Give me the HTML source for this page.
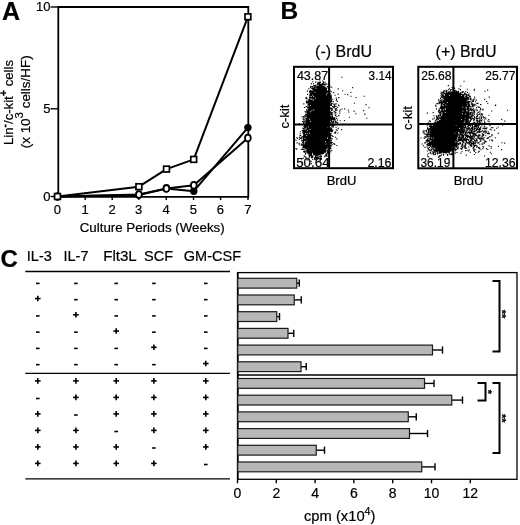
<!DOCTYPE html>
<html><head><meta charset="utf-8"><title>Figure</title>
<style>
html,body{margin:0;padding:0;background:#fff;}
body{width:520px;height:525px;overflow:hidden;font-family:"Liberation Sans",sans-serif;}
svg{display:block;will-change:transform;font-family:"Liberation Sans",sans-serif;}
svg text{fill:#000;stroke:#000;stroke-width:0.2px;}
</style></head><body>
<svg width="520" height="525" viewBox="0 0 520 525" shape-rendering="geometricPrecision">
<rect width="520" height="525" fill="#fff"/>
<path d="M58.3 196.9 L58.3 7 L248.3 7 L248.3 196.9 Z" fill="none" stroke="#000" stroke-width="1.8"/>
<line x1="50.5" y1="7" x2="58.3" y2="7" stroke="#000" stroke-width="1.4" />
<text x="50.5" y="10.8" font-size="13" text-anchor="end" font-weight="normal" >10</text>
<line x1="50.5" y1="108.8" x2="58.3" y2="108.8" stroke="#000" stroke-width="1.4" />
<text x="50.5" y="112.5" font-size="13" text-anchor="end" font-weight="normal" >5</text>
<line x1="50.5" y1="196.5" x2="58.3" y2="196.5" stroke="#000" stroke-width="1.4" />
<text x="50.5" y="200.7" font-size="13" text-anchor="end" font-weight="normal" >0</text>
<line x1="57.5" y1="196.9" x2="57.5" y2="200.1" stroke="#000" stroke-width="1.4" />
<text x="57.3" y="213.5" font-size="13" text-anchor="middle" font-weight="normal" >0</text>
<line x1="85.2" y1="196.9" x2="85.2" y2="200.1" stroke="#000" stroke-width="1.4" />
<text x="85.0" y="213.5" font-size="13" text-anchor="middle" font-weight="normal" >1</text>
<line x1="112.2" y1="196.9" x2="112.2" y2="200.1" stroke="#000" stroke-width="1.4" />
<text x="112.0" y="213.5" font-size="13" text-anchor="middle" font-weight="normal" >2</text>
<line x1="138.8" y1="196.9" x2="138.8" y2="200.1" stroke="#000" stroke-width="1.4" />
<text x="138.60000000000002" y="213.5" font-size="13" text-anchor="middle" font-weight="normal" >3</text>
<line x1="166.3" y1="196.9" x2="166.3" y2="200.1" stroke="#000" stroke-width="1.4" />
<text x="166.10000000000002" y="213.5" font-size="13" text-anchor="middle" font-weight="normal" >4</text>
<line x1="193.5" y1="196.9" x2="193.5" y2="200.1" stroke="#000" stroke-width="1.4" />
<text x="193.3" y="213.5" font-size="13" text-anchor="middle" font-weight="normal" >5</text>
<line x1="220.6" y1="196.9" x2="220.6" y2="200.1" stroke="#000" stroke-width="1.4" />
<text x="220.4" y="213.5" font-size="13" text-anchor="middle" font-weight="normal" >6</text>
<line x1="248" y1="196.9" x2="248" y2="200.1" stroke="#000" stroke-width="1.4" />
<text x="247.8" y="213.5" font-size="13" text-anchor="middle" font-weight="normal" >7</text>
<text x="152.2" y="232.1" font-size="13" text-anchor="middle" font-weight="normal" textLength="145" lengthAdjust="spacingAndGlyphs">Culture Periods (Weeks)</text>
<text transform="translate(13,102.5) rotate(-90)" font-size="13" text-anchor="middle" textLength="85" lengthAdjust="spacingAndGlyphs">Lin<tspan dy="-5" font-size="10" font-weight="bold">-</tspan><tspan dy="5">/c-kit</tspan><tspan dy="-5.6" font-size="10.5" font-weight="bold">+</tspan><tspan dy="5.6"> cells</tspan></text>
<text transform="translate(29.8,101.8) rotate(-90)" font-size="13" text-anchor="middle" textLength="93" lengthAdjust="spacingAndGlyphs">(x 10<tspan dy="-6.6" font-size="11">3</tspan><tspan dy="6.6"> cells/HF)</tspan></text>
<text x="2" y="19.6" font-size="25" text-anchor="start" font-weight="bold" >A</text>
<polyline fill="none" stroke="#000" stroke-width="2.0" stroke-linejoin="round" points="57.5,196.5 138.9,186.7 166.5,169.1 193.7,159.4 247.9,16.8"/>
<polyline fill="none" stroke="#000" stroke-width="2.0" stroke-linejoin="round" points="57.5,196.5 138.8,195 166.4,188.6 193.8,191.2 247.9,127.6"/>
<polyline fill="none" stroke="#000" stroke-width="2.0" stroke-linejoin="round" points="57.5,196.5 138.9,194.6 166.4,188.4 193.8,185.3 247.9,138.1"/>
<circle cx="57.5" cy="196.5" r="3.7" fill="#000"/>
<circle cx="138.8" cy="195" r="3.7" fill="#000"/>
<circle cx="166.4" cy="188.6" r="3.7" fill="#000"/>
<circle cx="193.8" cy="191.2" r="3.7" fill="#000"/>
<circle cx="247.9" cy="127.6" r="3.7" fill="#000"/>
<ellipse cx="57.5" cy="196.5" rx="2.9" ry="3.4" fill="#fff" stroke="#000" stroke-width="1.8"/>
<ellipse cx="138.9" cy="194.6" rx="2.9" ry="3.4" fill="#fff" stroke="#000" stroke-width="1.8"/>
<ellipse cx="166.4" cy="188.4" rx="2.9" ry="3.4" fill="#fff" stroke="#000" stroke-width="1.8"/>
<ellipse cx="193.8" cy="185.3" rx="2.9" ry="3.4" fill="#fff" stroke="#000" stroke-width="1.8"/>
<ellipse cx="247.9" cy="138.1" rx="2.9" ry="3.4" fill="#fff" stroke="#000" stroke-width="1.8"/>
<rect x="54.6" y="193.6" width="5.8" height="5.8" fill="#fff" stroke="#000" stroke-width="1.7"/>
<rect x="136.0" y="183.79999999999998" width="5.8" height="5.8" fill="#fff" stroke="#000" stroke-width="1.7"/>
<rect x="163.6" y="166.2" width="5.8" height="5.8" fill="#fff" stroke="#000" stroke-width="1.7"/>
<rect x="190.79999999999998" y="156.5" width="5.8" height="5.8" fill="#fff" stroke="#000" stroke-width="1.7"/>
<rect x="245.0" y="13.9" width="5.8" height="5.8" fill="#fff" stroke="#000" stroke-width="1.7"/>
<text x="280.5" y="18.8" font-size="24.5" text-anchor="start" font-weight="bold" >B</text>
<text x="343.5" y="56.7" font-size="16" text-anchor="middle" font-weight="normal" >(-) BrdU</text>
<path stroke="#000" stroke-width="1.1" fill="none" d="M306.9 110.3h1.1M307.0 112.1h1.1M314.2 89.4h1.1M303.2 145.0h1.1M330.8 125.3h1.1M327.2 91.6h1.1M310.4 95.8h1.1M330.5 125.3h1.1M305.9 124.8h1.1M306.0 118.4h1.1M304.4 116.8h1.1M301.9 124.5h1.1M297.0 138.5h1.1M302.7 140.3h1.1M327.9 84.1h1.1M331.0 105.5h1.1M302.3 128.4h1.1M302.5 131.5h1.1M331.7 130.6h1.1M303.5 134.5h1.1M310.6 97.1h1.1M305.9 101.6h1.1M311.0 93.5h1.1M303.0 144.0h1.1M333.5 111.3h1.1M308.6 102.5h1.1M305.5 125.3h1.1M331.3 126.3h1.1M304.4 125.7h1.1M330.9 142.0h1.1M307.8 112.5h1.1M312.6 89.3h1.1M308.6 109.7h1.1M304.6 111.6h1.1M304.7 127.6h1.1M334.5 95.3h1.1M306.9 119.6h1.1M330.1 104.9h1.1M326.0 88.2h1.1M308.2 88.9h1.1M328.7 145.7h1.1M301.2 140.9h1.1M305.7 112.4h1.1M330.5 142.0h1.1M309.0 101.6h1.1M307.1 105.0h1.1M302.7 158.1h1.1M307.9 110.6h1.1M308.5 102.1h1.1M331.9 116.9h1.1M331.0 91.7h1.1M304.1 115.8h1.1M333.9 107.1h1.1M325.7 153.6h1.1M307.1 94.4h1.1M330.1 142.8h1.1M308.2 115.2h1.1M299.9 131.7h1.1M332.0 116.3h1.1M307.5 107.3h1.1M309.2 105.0h1.1M302.9 116.6h1.1M330.9 112.6h1.1M315.4 85.8h1.1M323.2 82.1h1.1M304.6 125.2h1.1M330.2 123.1h1.1M330.7 104.2h1.1M332.7 122.4h1.1M304.4 122.0h1.1M306.1 120.1h1.1M328.5 146.3h1.1M332.1 125.5h1.1M306.9 117.3h1.1M329.6 91.1h1.1M329.7 135.3h1.1M328.4 149.8h1.1M332.1 119.1h1.1M309.5 95.8h1.1M330.0 108.8h1.1M305.9 123.1h1.1M298.9 123.9h1.1M329.2 141.1h1.1M303.6 141.0h1.1M332.0 115.0h1.1M303.2 151.6h1.1M310.0 90.7h1.1M327.9 152.2h1.1M328.3 92.4h1.1M303.9 107.5h1.1M308.0 104.1h1.1M310.4 97.5h1.1M306.3 106.6h1.1M310.5 99.9h1.1M307.2 101.6h1.1M330.2 118.4h1.1M302.4 144.3h1.1M334.5 119.4h1.1M331.4 108.1h1.1M308.3 108.2h1.1M328.1 90.5h1.1M329.9 145.6h1.1M308.6 103.9h1.1M301.4 117.0h1.1M308.7 155.9h1.1M307.5 110.0h1.1M306.5 118.6h1.1M308.5 103.8h1.1M313.4 88.3h1.1M331.3 125.3h1.1M330.1 133.3h1.1M330.4 100.8h1.1M329.1 85.9h1.1M302.3 140.5h1.1M331.9 122.1h1.1M329.3 146.2h1.1M309.5 100.8h1.1M301.9 145.2h1.1M330.6 133.2h1.1M302.6 138.4h1.1M302.3 131.9h1.1M330.1 104.7h1.1M330.1 136.0h1.1M330.7 135.2h1.1M304.6 130.7h1.1M309.0 110.0h1.1M311.1 88.3h1.1M308.0 102.9h1.1M303.0 119.9h1.1M305.0 156.9h1.1M329.6 143.2h1.1M305.1 153.7h1.1M305.6 97.6h1.1M331.4 124.0h1.1M330.6 101.6h1.1M306.1 120.0h1.1M310.4 95.1h1.1M329.5 138.4h1.1M329.1 150.5h1.1M331.1 114.8h1.1M307.8 111.6h1.1M298.7 144.7h1.1M308.3 103.5h1.1M326.5 154.9h1.1M332.9 126.9h1.1M327.7 87.6h1.1M329.7 142.9h1.1M310.6 95.4h1.1M334.1 106.0h1.1M308.1 109.3h1.1M310.3 98.9h1.1M336.0 99.4h1.1M306.9 118.6h1.1M311.5 92.5h1.1M331.6 123.8h1.1M305.6 123.4h1.1M306.9 91.1h1.1M330.1 131.5h1.1M308.4 99.6h1.1M328.6 147.1h1.1M328.3 84.7h1.1M313.3 85.5h1.1M332.9 143.8h1.1M308.8 97.0h1.1M327.1 152.2h1.1M303.2 122.1h1.1M331.0 101.2h1.1M331.2 103.9h1.1M310.2 91.3h1.1M309.8 99.9h1.1M303.3 103.9h1.1M306.4 115.6h1.1M324.7 155.7h1.1M304.0 133.3h1.1M330.0 134.3h1.1M330.3 115.3h1.1M329.8 143.2h1.1M330.3 112.3h1.1M330.2 103.0h1.1M309.4 97.6h1.1M329.9 131.3h1.1M309.2 155.2h1.1M309.0 91.7h1.1M319.9 153.9h1.1M331.1 101.1h1.1M307.4 112.5h1.1M310.1 94.1h1.1M329.3 97.8h1.1M331.9 109.8h1.1M302.4 119.0h1.1M306.2 100.8h1.1M329.0 143.2h1.1M310.0 87.3h1.1M304.0 152.3h1.1M307.3 152.8h1.1M306.8 102.9h1.1M330.2 151.7h1.1M333.5 119.1h1.1M307.1 107.9h1.1M331.0 98.2h1.1M330.0 142.8h1.1M330.1 112.3h1.1M330.0 99.5h1.1M298.9 124.6h1.1M328.5 148.7h1.1M330.8 120.9h1.1M308.0 100.2h1.1M328.8 142.4h1.1M302.2 142.6h1.1M309.7 101.5h1.1M330.2 95.0h1.1M311.1 157.4h1.1M334.2 144.4h1.1M331.7 144.7h1.1M313.9 89.9h1.1M330.5 131.5h1.1M303.5 147.5h1.1M309.9 87.8h1.1M309.6 100.9h1.1M330.2 129.1h1.1M314.6 86.5h1.1M330.6 101.1h1.1M312.1 86.8h1.1M309.9 90.6h1.1M307.1 115.8h1.1M304.8 124.8h1.1M328.9 147.6h1.1M305.9 102.6h1.1M330.7 116.8h1.1M309.3 95.1h1.1M329.9 129.2h1.1M306.0 119.6h1.1M330.2 118.5h1.1M308.4 154.1h1.1M326.5 156.5h1.1M331.2 114.1h1.1M300.8 144.1h1.1M328.9 147.3h1.1M308.6 99.8h1.1M332.4 103.3h1.1M311.5 91.6h1.1M310.1 94.3h1.1M304.1 127.8h1.1M303.7 130.9h1.1M314.1 87.0h1.1M303.5 143.9h1.1M306.7 117.9h1.1M307.3 116.8h1.1M302.6 130.7h1.1M312.5 86.5h1.1M303.7 155.9h1.1M296.5 142.9h1.1M332.8 121.8h1.1M305.1 154.3h1.1M299.9 138.3h1.1M306.5 98.9h1.1M308.8 99.6h1.1M305.5 98.5h1.1M329.9 133.6h1.1M330.6 121.8h1.1M302.5 147.8h1.1M320.7 155.1h1.1M295.4 140.1h1.1M303.6 138.6h1.1M300.9 137.9h1.1M308.5 157.9h1.1M308.8 108.9h1.1M303.4 118.0h1.1M309.4 94.5h1.1M307.6 110.3h1.1M308.3 101.8h1.1M302.0 121.5h1.1M309.5 99.7h1.1M303.3 137.6h1.1M324.8 84.1h1.1M331.6 118.9h1.1M329.9 100.7h1.1M307.0 101.5h1.1M311.4 86.7h1.1M303.5 129.3h1.1M303.0 142.7h1.1M329.4 148.9h1.1M324.8 82.2h1.1M307.0 117.9h1.1M309.0 101.5h1.1M329.0 142.1h1.1M303.1 122.9h1.1M330.1 130.5h1.1M303.6 147.9h1.1M326.1 155.6h1.1M303.7 150.0h1.1M333.9 132.8h1.1M331.4 119.8h1.1M303.4 134.9h1.1M329.9 101.0h1.1M310.3 86.3h1.1M308.5 112.5h1.1M331.3 130.9h1.1M312.1 91.2h1.1M300.7 145.1h1.1M327.2 150.4h1.1M327.8 88.4h1.1M330.9 129.9h1.1M329.0 92.9h1.1M308.8 107.7h1.1M303.4 137.6h1.1M305.0 153.3h1.1M305.1 114.1h1.1M330.9 110.5h1.1M328.7 95.4h1.1M315.3 85.3h1.1M303.9 119.9h1.1M309.7 98.9h1.1M306.1 150.9h1.1M304.0 134.3h1.1M330.8 140.5h1.1M304.1 126.4h1.1M328.4 93.7h1.1M305.9 97.7h1.1M303.1 147.9h1.1M331.6 121.7h1.1M305.4 106.8h1.1M329.9 128.9h1.1M304.5 127.5h1.1M303.8 147.0h1.1M303.5 148.0h1.1M308.3 103.6h1.1M331.0 100.0h1.1M328.9 88.0h1.1M329.7 145.4h1.1M329.8 99.5h1.1M311.8 89.3h1.1M302.5 133.3h1.1M302.9 128.2h1.1M303.4 149.6h1.1M332.2 99.2h1.1M331.3 138.9h1.1M305.4 114.7h1.1M309.1 91.3h1.1M308.5 100.1h1.1M303.1 130.4h1.1M330.3 131.1h1.1M330.1 118.7h1.1M330.0 140.3h1.1M310.4 91.7h1.1M330.6 128.2h1.1M330.4 113.4h1.1M296.4 137.5h1.1M307.8 110.0h1.1M305.5 115.0h1.1M308.0 109.8h1.1M303.4 117.8h1.1M307.8 113.5h1.1M303.5 126.6h1.1M330.3 98.7h1.1M303.0 140.3h1.1M302.8 121.7h1.1M308.9 107.1h1.1M307.6 115.1h1.1M308.4 100.8h1.1M331.3 112.5h1.1M300.7 149.3h1.1M327.6 150.9h1.1M310.8 83.6h1.1M304.5 132.6h1.1M303.6 141.4h1.1M327.7 151.5h1.1M331.6 138.9h1.1M329.4 140.2h1.1M300.2 135.5h1.1M305.4 126.0h1.1M312.9 91.0h1.1M305.3 120.1h1.1M302.2 144.7h1.1M330.2 127.9h1.1M329.1 92.9h1.1M312.9 88.7h1.1M309.0 154.2h1.1M302.3 147.6h1.1M302.8 145.1h1.1M330.3 120.5h1.1M330.3 125.3h1.1M303.1 143.6h1.1M324.2 156.8h1.1M308.4 106.1h1.1M302.9 139.4h1.1M328.1 148.0h1.1M330.3 98.7h1.1M331.4 129.7h1.1M330.5 127.8h1.1M303.7 130.2h1.1M311.7 93.1h1.1M329.9 137.6h1.1M329.3 143.7h1.1M308.7 103.9h1.1M305.4 152.7h1.1M313.0 83.8h1.1M307.0 114.7h1.1M332.7 125.1h1.1M329.0 92.6h1.1M310.9 95.4h1.1M307.2 152.9h1.1M310.4 94.3h1.1M309.3 101.6h1.1M330.5 138.2h1.1M302.3 136.9h1.1M330.8 103.4h1.1M329.8 131.4h1.1M330.1 108.6h1.1M312.5 87.5h1.1M330.2 116.8h1.1M330.2 129.1h1.1M332.1 113.0h1.1M306.6 103.3h1.1M329.9 130.7h1.1M329.1 140.8h1.1M330.4 114.4h1.1M328.1 146.3h1.1M317.4 82.0h1.1M303.0 146.3h1.1M329.6 142.2h1.1M330.7 146.3h1.1M307.9 110.1h1.1M329.5 137.1h1.1M330.3 128.6h1.1M329.8 140.0h1.1M329.4 91.5h1.1M328.3 151.5h1.1M330.2 119.4h1.1M303.6 136.1h1.1M330.2 120.2h1.1M307.5 113.5h1.1M303.2 139.7h1.1M312.3 88.5h1.1M303.4 146.4h1.1M331.1 118.8h1.1M329.2 144.6h1.1M310.4 98.2h1.1M330.5 128.8h1.1M327.9 88.1h1.1M329.2 90.9h1.1M325.0 152.0h1.1M304.9 118.3h1.1M313.9 87.7h1.1M328.8 152.6h1.1M332.5 136.5h1.1M312.3 91.8h1.1M330.9 105.2h1.1M311.5 94.1h1.1M310.6 98.6h1.1M303.6 133.4h1.1M303.9 151.6h1.1M328.5 145.9h1.1M327.2 151.4h1.1M306.0 114.4h1.1M311.0 95.6h1.1M329.6 136.9h1.1M307.5 113.2h1.1M303.6 143.0h1.1M302.1 149.4h1.1M328.1 89.6h1.1M309.0 107.6h1.1M334.4 111.7h1.1M330.0 105.2h1.1M301.4 140.3h1.1M308.6 109.6h1.1M329.0 140.2h1.1M329.9 102.3h1.1M330.4 98.1h1.1M328.9 92.0h1.1M308.6 103.5h1.1M305.5 123.0h1.1M303.2 140.6h1.1M331.4 110.1h1.1M305.0 116.1h1.1M308.1 104.6h1.1M308.0 111.0h1.1M305.9 121.9h1.1M330.2 94.8h1.1M303.2 134.3h1.1M329.6 87.0h1.1M330.1 122.9h1.1M308.6 155.1h1.1M303.6 144.1h1.1M304.2 132.6h1.1M330.2 120.7h1.1M328.4 148.6h1.1M306.5 122.3h1.1M307.2 114.6h1.1M330.1 124.9h1.1M329.3 140.5h1.1M304.3 124.3h1.1M303.7 139.2h1.1M323.9 156.7h1.1M329.0 138.0h1.1M305.6 151.0h1.1M304.5 132.0h1.1M306.5 121.8h1.1M325.5 151.6h1.1M328.1 145.3h1.1M304.1 130.3h1.1M326.9 153.3h1.1M304.2 121.6h1.1M304.2 132.8h1.1M324.9 150.7h1.1M310.9 96.1h1.1M308.9 105.9h1.1M330.8 124.8h1.1M330.2 125.0h1.1M330.5 121.9h1.1M308.7 105.1h1.1M305.3 126.5h1.1M303.4 144.7h1.1M309.9 155.4h1.1M309.4 95.6h1.1M307.1 112.9h1.1M309.4 92.7h1.1M307.8 107.8h1.1M331.1 125.6h1.1M329.8 137.6h1.1M330.9 143.7h1.1M323.6 88.2h1.1M330.7 117.4h1.1M328.6 148.9h1.1M306.3 116.7h1.1M305.6 126.5h1.1M329.6 139.8h1.1M308.4 107.1h1.1M303.8 124.7h1.1M328.9 148.1h1.1M330.1 117.8h1.1M331.1 121.2h1.1M330.6 120.3h1.1M307.4 112.4h1.1M330.8 109.1h1.1M307.6 111.5h1.1M332.4 123.7h1.1M330.1 129.7h1.1M330.2 120.4h1.1M329.0 148.9h1.1M329.1 152.9h1.1M307.4 114.7h1.1M330.2 122.6h1.1M301.8 130.5h1.1M304.6 130.7h1.1M304.1 132.5h1.1M329.5 145.7h1.1M305.2 126.6h1.1M330.7 122.0h1.1M329.4 96.7h1.1M311.3 93.3h1.1M303.7 140.0h1.1M303.0 139.1h1.1M307.7 105.0h1.1M305.2 126.0h1.1M330.3 148.8h1.1M330.3 120.7h1.1M302.3 147.1h1.1M303.0 145.4h1.1M306.7 152.0h1.1M303.9 137.8h1.1M303.6 139.8h1.1M305.9 109.9h1.1M329.3 95.7h1.1M307.8 114.6h1.1M309.4 100.8h1.1M308.9 101.3h1.1M304.0 136.2h1.1M303.3 146.3h1.1M309.9 93.2h1.1M330.2 114.1h1.1M309.7 100.5h1.1M302.6 133.7h1.1M330.0 101.5h1.1M303.6 145.6h1.1M303.1 139.5h1.1M305.4 126.5h1.1M303.1 146.2h1.1M329.2 91.1h1.1M312.7 89.7h1.1M329.3 90.4h1.1M330.6 142.7h1.1M311.2 93.1h1.1M307.7 107.4h1.1M302.9 133.1h1.1M308.8 100.2h1.1M329.5 138.4h1.1M309.9 99.4h1.1M313.5 89.4h1.1M330.2 129.1h1.1M330.4 119.8h1.1M303.8 140.3h1.1M328.6 145.8h1.1M302.1 142.3h1.1M303.1 135.8h1.1M303.5 146.1h1.1M304.9 151.2h1.1M329.3 141.0h1.1M327.6 84.3h1.1M329.1 93.7h1.1M329.8 130.0h1.1M330.0 128.9h1.1M312.8 89.7h1.1M329.9 96.4h1.1M309.2 97.5h1.1M306.9 111.6h1.1M329.5 96.1h1.1M303.2 136.8h1.1M304.4 128.1h1.1M309.0 104.7h1.1M313.0 88.6h1.1M311.1 91.0h1.1M308.3 117.1h1.1M303.1 138.9h1.1M322.4 152.7h1.1M329.6 98.7h1.1M327.6 153.1h1.1M309.4 101.7h1.1M326.8 86.6h1.1M331.6 131.7h1.1M330.7 96.9h1.1M329.8 96.4h1.1M330.4 112.0h1.1M327.1 86.6h1.1M330.6 145.6h1.1M306.4 119.8h1.1M304.8 127.5h1.1M308.9 155.9h1.1M306.5 120.1h1.1M328.9 146.0h1.1M330.4 103.6h1.1M331.3 117.1h1.1M304.5 147.0h1.1M308.4 110.7h1.1M306.3 111.4h1.1M323.8 152.2h1.1M302.9 141.5h1.1M330.5 124.6h1.1M304.5 131.4h1.1M330.0 98.1h1.1M328.6 89.3h1.1M330.5 121.7h1.1M310.0 92.2h1.1M303.9 146.1h1.1M305.7 121.4h1.1M305.2 125.3h1.1M305.2 128.8h1.1M329.3 147.4h1.1M300.7 138.7h1.1M303.5 143.2h1.1M325.4 155.6h1.1M312.9 91.7h1.1M324.5 85.1h1.1M330.8 118.3h1.1M330.0 147.9h1.1M303.0 137.2h1.1M329.8 131.2h1.1M325.4 154.8h1.1M304.8 128.3h1.1M326.8 150.0h1.1M309.0 97.9h1.1M314.4 86.0h1.1M329.8 97.4h1.1M329.7 93.5h1.1M331.7 135.9h1.1M330.7 95.9h1.1M303.6 143.2h1.1M307.9 110.2h1.1M302.3 144.6h1.1M307.1 107.9h1.1M305.4 125.5h1.1M305.4 127.8h1.1M323.5 87.6h1.1M310.7 155.5h1.1M304.3 131.2h1.1M332.2 125.5h1.1M310.9 156.2h1.1M329.9 136.1h1.1M307.2 114.1h1.1M303.4 130.1h1.1M319.8 82.1h1.1M318.2 82.9h1.1M317.1 83.5h1.1M322.5 84.5h1.1M316.0 88.3h1.1M317.1 84.2h1.1M320.1 85.2h1.1M319.1 84.7h1.1M326.1 84.1h1.1M316.9 84.5h1.1M317.7 83.4h1.1M320.5 84.5h1.1M319.2 85.3h1.1M319.4 82.0h1.1M322.5 83.4h1.1M323.5 83.0h1.1M321.6 84.5h1.1M312.2 81.7h1.1M316.8 86.2h1.1M314.6 85.4h1.1M323.1 84.8h1.1M321.9 83.2h1.1M320.0 84.3h1.1M321.2 85.1h1.1M319.4 82.9h1.1M318.4 84.6h1.1M315.2 82.1h1.1M318.8 83.2h1.1M319.2 79.9h1.1M319.0 83.6h1.1M322.2 81.0h1.1M319.1 84.7h1.1M321.4 85.8h1.1M323.0 82.4h1.1M321.8 83.5h1.1M317.7 86.4h1.1M318.2 82.7h1.1M318.8 82.7h1.1M322.9 84.6h1.1M324.0 84.6h1.1M312.3 159.5h1.1M312.2 156.6h1.1M314.3 157.6h1.1M320.2 156.3h1.1M316.5 157.4h1.1M309.6 155.4h1.1M314.0 158.3h1.1M316.4 158.4h1.1M315.2 156.6h1.1M316.8 155.6h1.1M309.2 156.9h1.1M308.8 156.5h1.1M311.8 156.4h1.1M314.8 156.0h1.1M313.2 154.2h1.1M315.6 155.8h1.1M316.8 152.0h1.1M311.5 158.0h1.1M304.4 156.8h1.1M315.4 157.7h1.1M308.5 157.9h1.1M315.6 155.6h1.1M318.2 157.4h1.1M315.1 156.6h1.1M317.4 157.7h1.1M319.9 158.4h1.1M312.3 157.1h1.1M319.0 156.8h1.1M316.7 158.5h1.1M314.2 153.0h1.1M315.6 157.9h1.1M315.6 156.0h1.1M320.3 157.2h1.1M312.3 156.1h1.1M316.6 155.4h1.1M310.6 161.4h1.1M320.7 159.5h1.1M320.9 158.7h1.1M307.7 159.8h1.1M320.4 158.4h1.1M306.5 159.9h1.1M320.9 156.5h1.1M315.6 159.0h1.1M314.6 159.6h1.1M315.4 158.8h1.1M315.4 154.6h1.1M310.7 163.6h1.1M316.2 160.0h1.1M320.0 160.8h1.1M317.4 156.3h1.1M315.1 153.8h1.1M314.2 159.3h1.1M305.6 157.9h1.1M318.6 160.1h1.1M311.0 156.2h1.1M336.2 138.9h1.1M335.8 108.4h1.1M341.3 77.3h1.1M334.3 118.9h1.1M341.1 129.6h1.1M341.5 109.0h1.1M337.5 128.7h1.1M336.1 118.4h1.1M333.9 111.8h1.1M333.1 92.6h1.1M335.3 114.6h1.1M335.0 137.2h1.1M334.2 113.2h1.1M332.2 118.6h1.1M333.1 120.1h1.1M344.2 108.9h1.1M331.8 142.5h1.1M337.2 122.6h1.1M336.7 123.2h1.1M336.6 130.5h1.1M337.6 128.4h1.1M332.9 117.9h1.1M332.2 130.3h1.1M337.1 107.2h1.1M336.3 145.5h1.1M338.4 97.8h1.1M334.2 124.0h1.1M334.4 120.8h1.1M338.2 115.5h1.1M331.1 128.8h1.1M334.2 117.7h1.1M332.7 101.5h1.1M331.2 87.3h1.1M338.1 97.6h1.1M332.2 125.2h1.1M332.1 126.9h1.1M333.0 121.5h1.1M334.8 115.6h1.1M334.4 133.2h1.1M332.8 124.5h1.1M335.0 121.2h1.1M337.6 94.1h1.1M335.4 112.8h1.1M333.5 106.9h1.1M332.0 106.5h1.1M331.1 150.5h1.1M339.8 109.7h1.1M336.8 101.4h1.1M334.9 132.9h1.1M334.4 104.1h1.1M333.7 104.9h1.1M333.3 107.7h1.1M331.7 108.1h1.1M335.2 131.9h1.1M333.8 143.8h1.1M334.8 122.4h1.1M338.0 105.0h1.1M335.4 106.4h1.1M337.3 133.0h1.1M337.7 88.9h1.1M335.1 112.5h1.1M335.2 109.4h1.1M335.9 122.1h1.1M336.9 120.1h1.1M335.8 100.2h1.1M333.2 119.2h1.1M333.3 104.7h1.1M334.6 108.8h1.1M333.2 106.8h1.1M332.2 117.7h1.1M332.5 126.7h1.1M334.1 118.1h1.1M335.8 129.8h1.1M336.4 116.5h1.1M334.0 106.9h1.1M333.4 125.5h1.1M335.2 110.5h1.1M335.5 127.2h1.1M335.7 98.0h1.1M333.8 119.5h1.1M331.6 123.7h1.1M333.9 106.7h1.1M335.6 103.9h1.1M331.3 130.6h1.1M336.4 110.1h1.1M365.5 104.6h1.1M339.7 120.8h1.1M348.2 112.0h1.1M350.4 96.3h1.1M338.4 105.7h1.1M363.7 96.3h1.1M363.2 110.6h1.1M339.2 111.1h1.1M355.5 97.5h1.1M339.2 113.1h1.1M342.1 90.7h1.1M347.7 110.0h1.1M344.6 94.2h1.1M352.1 87.6h1.1M355.2 113.7h1.1M366.3 118.3h1.1M353.5 111.1h1.1M350.3 92.5h1.1M364.2 114.1h1.1M347.2 94.6h1.1M364.4 114.2h1.1M338.5 115.8h1.1M368.4 107.7h1.1M353.9 103.2h1.1M343.9 120.5h1.1M348.8 117.2h1.1M301.1 149.2h1.1M304.4 127.2h1.1M298.9 139.1h1.1M304.4 143.5h1.1M305.6 122.6h1.1M303.4 132.1h1.1M302.3 144.1h1.1M299.2 137.1h1.1M298.6 143.4h1.1M299.5 133.8h1.1M302.6 131.8h1.1M305.3 132.0h1.1M304.5 143.6h1.1M299.0 137.2h1.1M299.6 135.4h1.1M301.2 162.9h1.1M300.8 159.8h1.1M303.3 123.5h1.1M295.3 148.5h1.1M296.2 149.1h1.1M305.0 144.9h1.1M301.4 136.8h1.1"/>
<path fill="#000" d="M318.7 85.0 L316.8 85.8 L316.2 86.6 L315.1 87.4 L314.1 88.2 L312.9 89.0 L313.5 89.8 L313.2 90.6 L311.4 91.4 L312.3 92.2 L311.4 93.0 L311.0 93.8 L311.5 94.6 L310.2 95.4 L310.0 96.2 L310.3 97.0 L310.6 97.8 L310.4 98.6 L310.9 99.4 L310.6 100.2 L310.4 101.0 L309.5 101.8 L309.4 102.6 L309.0 103.4 L308.6 104.2 L309.6 105.0 L309.4 105.8 L309.6 106.6 L309.6 107.4 L309.5 108.2 L308.2 109.0 L308.9 109.8 L309.1 110.6 L308.2 111.4 L308.3 112.2 L307.3 113.0 L307.4 113.8 L308.3 114.6 L308.3 115.4 L307.6 116.2 L307.0 117.0 L307.4 117.8 L306.7 118.6 L306.4 119.4 L306.1 120.2 L306.2 121.0 L306.5 121.8 L306.3 122.6 L306.3 123.4 L305.1 124.2 L305.1 125.0 L305.0 125.8 L305.3 126.6 L305.7 127.4 L304.7 128.2 L304.9 129.0 L305.7 129.8 L304.3 130.6 L305.5 131.4 L304.7 132.2 L303.8 133.0 L303.8 133.8 L304.3 134.6 L303.6 135.4 L303.6 136.2 L303.6 137.0 L304.0 137.8 L303.1 138.6 L303.9 139.4 L304.0 140.2 L303.3 141.0 L303.1 141.8 L302.8 142.6 L303.7 143.4 L304.3 144.2 L303.9 145.0 L304.1 145.8 L304.4 146.6 L303.7 147.4 L305.1 148.2 L304.8 149.0 L305.6 149.8 L306.1 150.6 L306.7 151.4 L307.3 152.2 L307.4 153.0 L308.1 153.8 L310.0 154.6 L310.8 155.4 L320.2 155.4 L322.1 154.6 L324.3 153.8 L324.1 153.0 L325.6 152.2 L325.5 151.4 L326.7 150.6 L327.0 149.8 L328.1 149.0 L327.2 148.2 L328.4 147.4 L327.6 146.6 L329.1 145.8 L328.2 145.0 L328.1 144.2 L328.6 143.4 L328.8 142.6 L328.6 141.8 L329.6 141.0 L329.5 140.2 L329.8 139.4 L330.1 138.6 L330.1 137.8 L330.1 137.0 L328.8 136.2 L329.4 135.4 L329.4 134.6 L329.7 133.8 L329.6 133.0 L329.8 132.2 L329.1 131.4 L329.1 130.6 L329.8 129.8 L330.5 129.0 L330.7 128.2 L329.3 127.4 L329.8 126.6 L330.2 125.8 L330.3 125.0 L330.1 124.2 L330.0 123.4 L330.6 122.6 L329.4 121.8 L329.3 121.0 L330.6 120.2 L330.5 119.4 L330.0 118.6 L329.3 117.8 L330.9 117.0 L330.9 116.2 L329.3 115.4 L329.6 114.6 L330.8 113.8 L329.5 113.0 L330.2 112.2 L330.7 111.4 L329.3 110.6 L330.0 109.8 L329.7 109.0 L330.0 108.2 L330.9 107.4 L329.3 106.6 L329.2 105.8 L329.8 105.0 L329.8 104.2 L330.0 103.4 L330.1 102.6 L329.0 101.8 L330.7 101.0 L329.2 100.2 L329.4 99.4 L329.0 98.6 L329.2 97.8 L328.9 97.0 L329.9 96.2 L329.6 95.4 L328.5 94.6 L329.8 93.8 L329.2 93.0 L329.6 92.2 L327.8 91.4 L327.6 90.6 L327.0 89.8 L326.7 89.0 L327.0 88.2 L325.9 87.4 L325.2 86.6 L323.3 85.8 L321.7 85.0 Z"/>
<path stroke="#fff" stroke-width="0.9" fill="none" d="M310.8 99.1h0.9M320.8 154.5h0.9M309.0 119.2h0.9M325.9 149.7h0.9M312.8 99.2h0.9M305.6 141.0h0.9M313.2 109.9h0.9M329.5 132.9h0.9M325.6 144.0h0.9M327.1 138.0h0.9M307.9 127.0h0.9M328.6 140.9h0.9M312.2 153.4h0.9M326.8 93.2h0.9M329.5 102.9h0.9M310.6 99.1h0.9M328.5 120.1h0.9M306.3 135.6h0.9M325.1 141.5h0.9M303.7 143.8h0.9M329.2 131.5h0.9M327.7 127.4h0.9M317.5 85.3h0.9M328.1 92.9h0.9M305.9 128.1h0.9M312.6 100.2h0.9M305.3 129.1h0.9M329.1 104.3h0.9M329.6 132.1h0.9M306.8 133.6h0.9M314.9 98.1h0.9M311.4 110.8h0.9M329.2 128.4h0.9M329.1 120.6h0.9M313.5 155.4h0.9M310.8 96.5h0.9M328.6 97.5h0.9M304.3 142.6h0.9M314.5 92.2h0.9M310.1 121.6h0.9M327.8 148.6h0.9M309.5 129.4h0.9M328.6 110.8h0.9M309.8 111.8h0.9M305.6 149.6h0.9M312.0 154.5h0.9M305.2 133.7h0.9M327.5 138.5h0.9M304.5 138.4h0.9M326.0 94.8h0.9M312.3 95.3h0.9M315.6 88.3h0.9M306.9 130.7h0.9M309.9 105.7h0.9M312.0 154.6h0.9M309.1 133.2h0.9M329.1 135.5h0.9M313.2 96.5h0.9M304.0 141.5h0.9M329.9 121.7h0.9"/>
<rect x="294" y="66.8" width="99" height="101.39999999999999" fill="none" stroke="#000" stroke-width="2.0"/>
<line x1="329.1" y1="66.8" x2="329.1" y2="168.2" stroke="#000" stroke-width="2.0" />
<line x1="294" y1="124.6" x2="393" y2="124.6" stroke="#000" stroke-width="2.0" />
<text x="296.9" y="79.8" font-size="12.5" text-anchor="start" font-weight="normal" textLength="31.3" lengthAdjust="spacingAndGlyphs">43.87</text>
<text x="391.5" y="79.8" font-size="12.5" text-anchor="end" font-weight="normal" textLength="22.9" lengthAdjust="spacingAndGlyphs">3.14</text>
<text x="296.2" y="166.6" font-size="12.5" text-anchor="start" font-weight="normal" textLength="33.4" lengthAdjust="spacingAndGlyphs">50.64</text>
<text x="391.5" y="166.6" font-size="12.5" text-anchor="end" font-weight="normal" textLength="24.1" lengthAdjust="spacingAndGlyphs">2.16</text>
<text x="341.5" y="185.1" font-size="13" text-anchor="middle" font-weight="normal" >BrdU</text>
<text transform="translate(289.2,116.5) rotate(-90)" font-size="13" text-anchor="middle">c-kit</text>
<text x="466" y="56.7" font-size="16" text-anchor="middle" font-weight="normal" >(+) BrdU</text>
<path stroke="#000" stroke-width="1.1" fill="none" d="M427.7 138.8h1.1M473.2 115.8h1.1M436.2 103.7h1.1M438.1 120.3h1.1M433.3 115.8h1.1M428.1 149.1h1.1M461.0 132.9h1.1M467.1 123.4h1.1M427.5 140.2h1.1M467.4 108.2h1.1M424.8 137.5h1.1M433.5 148.9h1.1M468.0 95.0h1.1M428.2 139.6h1.1M462.2 130.2h1.1M468.8 112.7h1.1M437.9 111.9h1.1M456.4 146.5h1.1M459.8 132.6h1.1M469.7 117.7h1.1M460.6 131.4h1.1M459.5 143.1h1.1M469.6 96.6h1.1M457.8 147.1h1.1M460.2 130.8h1.1M428.9 126.4h1.1M461.7 129.2h1.1M473.5 98.7h1.1M426.4 144.6h1.1M439.3 113.3h1.1M442.3 97.7h1.1M425.4 142.3h1.1M440.8 97.4h1.1M427.2 128.2h1.1M470.7 104.0h1.1M426.9 139.6h1.1M437.1 117.3h1.1M467.7 113.7h1.1M479.0 107.3h1.1M466.7 107.1h1.1M435.9 119.8h1.1M437.8 116.8h1.1M439.3 116.3h1.1M436.2 116.3h1.1M440.3 102.1h1.1M463.4 132.7h1.1M458.5 136.3h1.1M457.2 145.3h1.1M441.2 103.7h1.1M441.0 105.9h1.1M470.0 112.6h1.1M439.9 98.4h1.1M469.9 121.3h1.1M429.1 140.2h1.1M462.7 126.4h1.1M460.1 148.2h1.1M435.0 149.5h1.1M429.8 146.0h1.1M468.1 108.6h1.1M428.3 140.4h1.1M454.5 145.3h1.1M456.6 148.8h1.1M437.1 103.6h1.1M429.2 128.7h1.1M467.1 119.2h1.1M465.0 93.7h1.1M435.5 120.3h1.1M461.3 130.3h1.1M468.4 101.7h1.1M437.4 153.1h1.1M459.2 140.3h1.1M469.0 96.8h1.1M444.1 95.2h1.1M461.6 132.5h1.1M432.2 151.7h1.1M468.3 98.4h1.1M467.5 102.2h1.1M462.5 140.1h1.1M460.2 92.7h1.1M464.1 127.8h1.1M441.6 95.8h1.1M459.4 94.0h1.1M457.2 144.9h1.1M441.6 106.4h1.1M450.7 154.6h1.1M455.6 145.9h1.1M437.8 115.9h1.1M449.6 154.3h1.1M440.9 94.2h1.1M436.3 118.3h1.1M462.8 132.9h1.1M455.7 139.1h1.1M460.5 134.6h1.1M431.8 149.0h1.1M440.8 106.8h1.1M467.4 119.7h1.1M456.5 152.5h1.1M440.5 108.4h1.1M441.5 94.4h1.1M462.2 138.3h1.1M457.1 141.5h1.1M427.0 128.8h1.1M434.5 149.8h1.1M429.0 147.5h1.1M459.2 134.6h1.1M431.0 149.2h1.1M458.9 133.0h1.1M462.1 135.4h1.1M441.6 106.4h1.1M469.1 106.3h1.1M463.4 127.5h1.1M443.3 93.9h1.1M440.6 108.6h1.1M425.5 134.3h1.1M441.3 100.0h1.1M465.2 120.7h1.1M429.9 152.9h1.1M470.5 106.3h1.1M428.5 134.6h1.1M468.6 105.4h1.1M428.2 137.1h1.1M467.9 118.5h1.1M441.7 106.0h1.1M433.3 150.3h1.1M466.9 98.5h1.1M439.6 100.3h1.1M438.6 109.4h1.1M440.9 106.4h1.1M424.5 134.0h1.1M429.6 144.2h1.1M437.4 118.4h1.1M466.3 98.0h1.1M441.5 107.5h1.1M466.4 121.4h1.1M440.6 92.2h1.1M451.3 149.5h1.1M452.6 151.8h1.1M441.2 108.2h1.1M430.3 150.7h1.1M439.1 112.2h1.1M432.6 112.6h1.1M461.5 92.4h1.1M442.9 91.6h1.1M466.2 122.1h1.1M472.8 100.3h1.1M466.7 110.4h1.1M472.1 106.8h1.1M444.5 94.5h1.1M469.0 105.3h1.1M422.6 132.8h1.1M468.5 108.2h1.1M448.7 152.1h1.1M434.6 151.4h1.1M466.6 111.9h1.1M427.6 143.6h1.1M439.9 107.2h1.1M435.2 105.4h1.1M440.9 97.1h1.1M443.1 93.0h1.1M428.8 130.0h1.1M455.8 142.8h1.1M434.1 150.6h1.1M445.7 92.2h1.1M452.0 147.5h1.1M458.1 140.7h1.1M440.6 95.7h1.1M454.5 145.3h1.1M466.9 97.5h1.1M440.7 110.2h1.1M463.5 123.8h1.1M468.1 117.9h1.1M445.5 91.4h1.1M470.5 99.9h1.1M435.4 106.5h1.1M451.7 153.0h1.1M426.2 137.1h1.1M441.2 104.3h1.1M443.8 93.1h1.1M463.5 127.9h1.1M467.7 114.6h1.1M461.4 94.7h1.1M469.4 115.9h1.1M467.6 128.3h1.1M467.9 103.6h1.1M465.7 132.4h1.1M429.7 124.8h1.1M441.5 107.7h1.1M467.0 102.5h1.1M458.6 137.1h1.1M473.5 99.7h1.1M430.9 125.3h1.1M436.9 122.2h1.1M468.0 97.8h1.1M469.7 106.5h1.1M468.9 105.2h1.1M441.4 92.3h1.1M470.5 107.8h1.1M465.9 96.4h1.1M428.4 137.0h1.1M459.9 133.5h1.1M466.3 100.7h1.1M440.1 107.5h1.1M427.7 135.9h1.1M462.2 132.2h1.1M467.3 110.0h1.1M439.3 102.8h1.1M452.1 148.0h1.1M466.8 110.4h1.1M464.4 94.0h1.1M453.9 149.5h1.1M464.7 123.8h1.1M461.8 136.4h1.1M466.6 116.0h1.1M427.7 129.8h1.1M427.2 139.6h1.1M454.9 150.7h1.1M428.5 132.3h1.1M449.6 149.5h1.1M438.6 110.7h1.1M428.2 138.5h1.1M435.2 151.7h1.1M428.1 140.1h1.1M463.5 125.0h1.1M468.2 101.8h1.1M467.2 107.4h1.1M471.7 109.5h1.1M452.1 149.4h1.1M467.6 121.2h1.1M432.1 151.8h1.1M440.6 106.5h1.1M467.4 101.9h1.1M467.9 103.0h1.1M458.0 144.3h1.1M461.9 96.2h1.1M470.4 108.9h1.1M440.6 106.8h1.1M438.0 99.9h1.1M470.4 117.0h1.1M463.4 146.9h1.1M461.9 136.5h1.1M466.4 118.0h1.1M427.8 122.7h1.1M455.7 147.2h1.1M454.7 149.2h1.1M456.1 144.8h1.1M469.9 113.5h1.1M441.0 111.6h1.1M438.1 111.9h1.1M465.3 96.5h1.1M434.8 121.8h1.1M461.6 130.2h1.1M454.8 149.0h1.1M469.5 96.2h1.1M464.6 125.8h1.1M440.9 102.4h1.1M451.6 151.3h1.1M427.2 127.8h1.1M437.5 119.6h1.1M438.3 110.4h1.1M424.5 143.3h1.1M471.9 115.0h1.1M441.1 103.9h1.1M465.1 124.1h1.1M488.7 97.1h1.1M468.9 101.6h1.1M458.6 139.7h1.1M466.9 92.4h1.1M455.6 149.6h1.1M470.0 99.4h1.1M466.0 117.4h1.1M432.8 125.4h1.1M445.9 91.9h1.1M467.3 105.9h1.1M461.5 126.1h1.1M460.5 136.2h1.1M472.5 113.0h1.1M438.4 120.5h1.1M457.1 138.1h1.1M436.7 154.0h1.1M441.3 104.4h1.1M440.9 111.8h1.1M442.4 95.5h1.1M429.7 121.2h1.1M465.6 122.5h1.1M442.2 103.0h1.1M459.9 133.6h1.1M467.6 115.0h1.1M468.5 104.9h1.1M426.4 136.8h1.1M431.5 147.7h1.1M466.2 135.0h1.1M438.6 101.2h1.1M422.7 130.9h1.1M430.6 128.7h1.1M428.0 143.9h1.1M465.4 122.7h1.1M465.3 123.3h1.1M436.2 118.3h1.1M440.6 105.4h1.1M468.0 113.7h1.1M427.0 144.1h1.1M445.6 93.3h1.1M441.1 104.6h1.1M463.4 139.3h1.1M427.5 147.7h1.1M436.0 119.6h1.1M468.4 95.8h1.1M461.3 129.4h1.1M463.9 93.3h1.1M442.4 96.2h1.1M428.7 149.6h1.1M438.2 119.0h1.1M448.3 158.5h1.1M441.1 102.6h1.1M463.2 123.6h1.1M467.0 114.8h1.1M428.4 130.0h1.1M457.4 148.9h1.1M439.7 102.0h1.1M462.2 91.6h1.1M426.5 140.9h1.1M463.1 131.6h1.1M453.5 147.8h1.1M435.7 115.8h1.1M458.7 138.9h1.1M467.3 110.3h1.1M455.8 143.8h1.1M427.5 148.7h1.1M462.8 137.5h1.1M424.4 130.8h1.1M442.7 99.7h1.1M427.9 145.3h1.1M427.2 134.9h1.1M426.3 135.9h1.1M466.7 150.3h1.1M468.9 118.1h1.1M424.3 142.8h1.1M434.9 122.6h1.1M466.2 97.2h1.1M426.4 136.3h1.1M427.8 143.0h1.1M470.2 99.1h1.1M467.5 121.0h1.1M467.0 115.2h1.1M441.3 101.8h1.1M435.9 108.9h1.1M467.4 107.6h1.1M461.6 148.0h1.1M464.3 121.7h1.1M469.1 96.3h1.1M438.3 102.9h1.1M451.5 150.0h1.1M439.3 114.3h1.1M465.3 118.9h1.1M457.9 140.5h1.1M424.5 147.4h1.1M462.7 127.4h1.1M431.0 125.7h1.1M468.6 110.1h1.1M452.8 152.9h1.1M465.2 124.3h1.1M467.2 115.3h1.1M436.8 151.4h1.1M429.4 128.6h1.1M465.2 135.5h1.1M450.9 153.5h1.1M466.1 117.9h1.1M429.3 128.9h1.1M428.9 141.0h1.1M467.4 104.1h1.1M455.4 145.3h1.1M433.7 154.7h1.1M435.0 153.8h1.1M440.6 105.7h1.1M450.1 148.8h1.1M425.9 130.2h1.1M430.9 146.6h1.1M440.5 101.7h1.1M465.6 121.5h1.1M465.6 119.0h1.1M467.5 106.9h1.1M429.2 140.5h1.1M467.1 112.6h1.1M460.8 128.4h1.1M429.1 128.8h1.1M443.0 95.4h1.1M472.7 108.9h1.1M440.9 104.7h1.1M428.1 139.1h1.1M440.4 93.7h1.1M427.2 129.3h1.1M438.5 111.8h1.1M468.2 99.6h1.1M423.8 133.9h1.1M439.6 116.2h1.1M460.0 133.8h1.1M439.4 108.3h1.1M438.8 112.3h1.1M431.2 146.8h1.1M433.7 118.1h1.1M470.4 109.7h1.1M436.3 123.0h1.1M467.1 136.9h1.1M467.3 95.7h1.1M467.3 96.0h1.1M467.5 112.7h1.1M437.4 150.5h1.1M469.7 96.5h1.1M455.0 144.6h1.1M466.1 116.9h1.1M455.5 146.1h1.1M458.1 143.3h1.1M461.8 128.6h1.1M468.5 102.7h1.1M464.2 124.8h1.1M468.3 106.1h1.1M467.8 104.5h1.1M460.7 137.7h1.1M453.9 148.6h1.1M439.0 110.5h1.1M427.9 134.7h1.1M440.6 113.8h1.1M440.6 101.1h1.1M460.6 131.5h1.1M443.4 93.8h1.1M452.0 154.6h1.1M441.6 105.0h1.1M457.3 139.7h1.1M466.0 122.8h1.1M455.8 142.5h1.1M436.8 152.6h1.1M468.3 107.0h1.1M430.8 150.0h1.1M428.2 141.1h1.1M466.0 114.9h1.1M445.5 94.7h1.1M427.5 138.8h1.1M428.6 128.9h1.1M439.9 107.3h1.1M431.1 146.2h1.1M443.9 93.0h1.1M461.2 129.2h1.1M437.4 119.0h1.1M466.1 99.7h1.1M429.8 126.7h1.1M457.0 141.2h1.1M438.0 150.3h1.1M468.2 107.0h1.1M466.0 113.4h1.1M467.3 108.5h1.1M438.0 120.1h1.1M442.6 95.2h1.1M467.3 110.4h1.1M437.3 150.3h1.1M428.6 144.9h1.1M440.2 112.2h1.1M465.6 96.1h1.1M466.4 97.8h1.1M429.4 145.4h1.1M434.9 152.3h1.1M428.1 135.2h1.1M467.4 106.9h1.1M428.2 135.2h1.1M452.1 148.7h1.1M441.1 103.8h1.1M427.6 136.3h1.1M467.3 104.3h1.1M430.4 124.8h1.1M467.3 109.9h1.1M461.3 130.1h1.1M457.0 145.0h1.1M438.0 115.3h1.1M465.7 95.5h1.1M453.5 148.9h1.1M467.7 106.4h1.1M461.2 94.0h1.1M463.2 121.8h1.1M431.2 146.7h1.1M465.0 96.7h1.1M442.0 105.2h1.1M455.3 143.3h1.1M426.6 142.0h1.1M439.7 102.6h1.1M464.1 127.6h1.1M465.2 122.7h1.1M467.3 103.6h1.1M467.3 103.1h1.1M439.3 103.8h1.1M433.3 124.3h1.1M458.3 138.1h1.1M458.6 138.6h1.1M429.7 121.7h1.1M427.4 140.6h1.1M466.6 112.9h1.1M435.9 124.2h1.1M441.8 105.5h1.1M456.6 141.5h1.1M427.4 129.2h1.1M458.4 144.0h1.1M467.6 118.9h1.1M465.7 117.9h1.1M467.4 106.0h1.1M429.6 128.3h1.1M430.8 125.0h1.1M433.3 148.7h1.1M458.1 139.7h1.1M466.9 113.9h1.1M462.3 126.2h1.1M460.1 131.4h1.1M462.6 127.8h1.1M443.7 91.3h1.1M441.1 107.2h1.1M436.8 121.8h1.1M428.2 138.0h1.1M466.9 98.3h1.1M439.4 153.2h1.1M433.1 147.1h1.1M465.5 94.1h1.1M457.9 139.9h1.1M440.2 100.1h1.1M430.0 127.8h1.1M468.5 108.4h1.1M454.5 146.9h1.1M461.8 129.3h1.1M467.7 110.3h1.1M467.9 104.0h1.1M437.9 118.5h1.1M440.3 111.6h1.1M468.0 113.9h1.1M465.9 99.1h1.1M428.3 136.2h1.1M466.2 117.7h1.1M467.1 111.8h1.1M436.0 117.2h1.1M428.4 145.6h1.1M441.5 104.9h1.1M440.7 105.4h1.1M440.9 104.4h1.1M430.5 149.2h1.1M438.8 118.8h1.1M461.6 126.9h1.1M432.6 148.6h1.1M439.9 114.4h1.1M446.5 93.3h1.1M467.2 104.0h1.1M429.1 142.5h1.1M464.0 98.3h1.1M433.7 150.6h1.1M465.5 94.8h1.1M427.9 137.0h1.1M467.0 110.9h1.1M466.9 109.3h1.1M441.2 103.5h1.1M464.2 119.1h1.1M468.6 110.7h1.1M448.6 153.9h1.1M467.9 101.6h1.1M456.5 142.4h1.1M467.0 106.6h1.1M464.8 119.7h1.1M465.4 120.2h1.1M441.7 92.6h1.1M467.2 116.0h1.1M427.8 130.5h1.1M452.9 150.1h1.1M437.6 153.1h1.1M460.0 139.1h1.1M429.5 144.2h1.1M467.7 114.6h1.1M455.6 145.2h1.1M441.7 106.8h1.1M466.8 102.2h1.1M429.7 142.6h1.1M439.5 115.7h1.1M430.3 145.0h1.1M435.4 151.8h1.1M459.2 135.6h1.1M438.8 102.6h1.1M429.4 150.7h1.1M463.0 92.0h1.1M428.5 139.4h1.1M441.4 107.3h1.1M457.9 137.2h1.1M453.7 146.5h1.1M440.3 118.6h1.1M459.5 132.8h1.1M427.8 135.6h1.1M428.3 135.9h1.1M468.7 104.4h1.1M442.1 97.0h1.1M438.2 157.4h1.1M425.7 131.0h1.1M437.8 120.2h1.1M466.0 119.1h1.1M429.5 125.0h1.1M434.7 120.2h1.1M461.1 129.0h1.1M441.1 114.3h1.1M458.4 144.0h1.1M456.4 145.3h1.1M466.9 107.9h1.1M430.6 124.3h1.1M458.9 137.3h1.1M467.5 102.1h1.1M464.6 94.1h1.1M468.2 109.8h1.1M429.8 126.3h1.1M457.9 134.2h1.1M462.7 125.4h1.1M438.5 149.9h1.1M451.1 150.4h1.1M461.2 131.1h1.1M466.7 111.3h1.1M427.7 140.9h1.1M439.3 113.7h1.1M463.5 120.0h1.1M457.4 137.2h1.1M432.3 123.9h1.1M464.5 124.9h1.1M445.6 93.8h1.1M429.1 143.1h1.1M432.9 149.5h1.1M467.4 111.2h1.1M466.5 101.4h1.1M427.0 145.2h1.1M429.0 144.2h1.1M466.6 94.8h1.1M463.5 129.0h1.1M431.7 151.8h1.1M459.8 133.6h1.1M429.6 126.6h1.1M430.0 146.1h1.1M457.5 138.8h1.1M441.8 94.0h1.1M441.9 102.2h1.1M430.7 146.0h1.1M428.3 132.0h1.1M460.0 132.1h1.1M439.9 112.8h1.1M459.1 135.4h1.1M439.9 114.4h1.1M428.1 136.5h1.1M428.2 134.9h1.1M453.5 144.9h1.1M441.5 105.8h1.1M464.0 117.0h1.1M435.2 123.8h1.1M430.9 144.6h1.1M453.3 146.2h1.1M432.3 119.1h1.1M454.3 148.5h1.1M433.9 148.6h1.1M465.5 114.0h1.1M455.8 144.6h1.1M428.0 136.9h1.1M468.1 108.4h1.1M441.3 108.2h1.1M464.1 125.9h1.1M442.3 96.8h1.1M426.7 126.0h1.1M437.0 118.4h1.1M461.8 128.1h1.1M432.2 123.8h1.1M430.5 127.4h1.1M457.3 141.5h1.1M427.7 139.2h1.1M465.7 95.5h1.1M467.4 114.8h1.1M462.7 126.5h1.1M444.2 94.0h1.1M441.3 106.0h1.1M440.6 100.0h1.1M467.2 114.0h1.1M427.9 134.0h1.1M460.2 138.1h1.1M442.7 97.9h1.1M466.2 118.8h1.1M428.2 135.5h1.1M427.3 134.7h1.1M465.3 122.7h1.1M487.2 149.5h1.1M471.1 132.4h1.1M472.0 104.3h1.1M479.4 119.6h1.1M475.3 123.7h1.1M459.5 113.3h1.1M460.2 131.9h1.1M473.3 122.2h1.1M479.4 131.4h1.1M470.0 108.3h1.1M463.0 112.8h1.1M480.1 108.2h1.1M462.1 117.2h1.1M476.9 118.6h1.1M473.2 109.0h1.1M481.2 117.4h1.1M467.5 116.1h1.1M465.8 116.0h1.1M465.2 122.7h1.1M473.7 110.9h1.1M469.4 137.5h1.1M483.8 120.0h1.1M459.7 112.1h1.1M490.8 130.0h1.1M469.6 113.0h1.1M476.6 125.0h1.1M478.5 124.2h1.1M468.9 122.4h1.1M463.7 138.9h1.1M471.6 117.7h1.1M475.8 128.9h1.1M475.4 125.9h1.1M473.7 119.8h1.1M481.2 114.5h1.1M472.4 100.1h1.1M467.6 115.2h1.1M462.3 131.5h1.1M462.6 102.5h1.1M466.3 113.3h1.1M474.0 131.6h1.1M462.3 135.1h1.1M481.3 125.8h1.1M468.6 114.8h1.1M464.0 94.3h1.1M466.4 108.4h1.1M478.1 118.3h1.1M465.2 107.3h1.1M463.6 122.0h1.1M469.4 116.9h1.1M467.6 116.0h1.1M474.2 128.3h1.1M478.4 131.3h1.1M483.5 137.6h1.1M476.8 125.1h1.1M466.6 120.2h1.1M484.2 99.4h1.1M473.7 113.9h1.1M477.3 131.6h1.1M467.9 140.1h1.1M466.2 120.5h1.1M480.2 128.3h1.1M468.5 128.5h1.1M458.1 112.0h1.1M458.5 135.2h1.1M482.6 140.0h1.1M478.9 120.8h1.1M462.7 109.8h1.1M462.0 114.1h1.1M467.5 126.9h1.1M466.6 120.5h1.1M460.9 117.2h1.1M463.3 112.3h1.1M469.5 113.2h1.1M470.2 128.8h1.1M460.1 86.0h1.1M480.4 149.8h1.1M463.0 129.8h1.1M476.6 119.1h1.1M458.5 137.7h1.1M471.9 104.9h1.1M474.3 123.7h1.1M463.7 140.0h1.1M473.5 119.3h1.1M472.4 143.0h1.1M490.9 127.8h1.1M464.2 129.7h1.1M484.4 117.6h1.1M460.3 121.1h1.1M476.4 122.0h1.1M469.8 114.5h1.1M471.4 124.0h1.1M469.9 138.6h1.1M465.3 115.3h1.1M467.5 112.4h1.1M460.7 107.1h1.1M470.3 98.0h1.1M468.8 133.0h1.1M482.8 116.6h1.1M473.2 120.4h1.1M479.4 113.9h1.1M461.2 124.0h1.1M463.5 81.2h1.1M468.0 117.4h1.1M471.5 114.1h1.1M476.5 129.5h1.1M476.2 145.8h1.1M474.1 97.1h1.1M471.7 113.0h1.1M462.8 113.4h1.1M464.3 100.9h1.1M466.1 117.2h1.1M464.9 103.8h1.1M483.2 134.9h1.1M474.0 134.1h1.1M478.5 121.7h1.1M459.9 89.6h1.1M462.7 104.6h1.1M460.0 101.9h1.1M464.7 116.0h1.1M458.9 120.7h1.1M476.5 110.7h1.1M474.3 110.2h1.1M467.0 107.3h1.1M475.7 100.0h1.1M486.4 127.9h1.1M470.8 116.4h1.1M461.6 99.6h1.1M473.6 114.2h1.1M474.7 143.1h1.1M471.7 127.4h1.1M467.4 107.0h1.1M471.6 141.0h1.1M476.4 125.5h1.1M464.6 114.8h1.1M483.2 128.2h1.1M460.8 107.2h1.1M474.0 126.7h1.1M466.7 89.3h1.1M460.8 115.9h1.1M472.4 118.7h1.1M466.8 122.4h1.1M458.3 88.8h1.1M473.0 133.7h1.1M465.2 127.7h1.1M476.6 113.8h1.1M473.1 135.9h1.1M464.0 120.9h1.1M474.2 112.0h1.1M479.3 117.1h1.1M478.2 124.8h1.1M465.0 113.7h1.1M462.5 140.3h1.1M462.9 107.3h1.1M480.3 131.9h1.1M475.6 109.3h1.1M461.5 112.2h1.1M471.9 129.2h1.1M477.7 126.4h1.1M476.4 103.4h1.1M469.4 109.9h1.1M466.5 117.6h1.1M465.2 114.7h1.1M479.1 128.2h1.1M467.2 118.7h1.1M474.2 122.4h1.1M477.4 106.7h1.1M478.8 111.8h1.1M475.5 105.3h1.1M478.9 132.1h1.1M464.9 123.0h1.1M466.9 130.1h1.1M468.6 112.7h1.1M462.4 113.4h1.1M474.5 128.2h1.1M464.7 111.4h1.1M461.0 106.0h1.1M469.0 122.0h1.1M476.9 115.5h1.1M460.3 130.9h1.1M470.2 114.2h1.1M471.3 118.2h1.1M475.9 127.2h1.1M460.4 109.3h1.1M475.7 118.5h1.1M476.7 110.0h1.1M482.4 128.3h1.1M461.8 116.5h1.1M471.7 123.3h1.1M475.6 100.2h1.1M467.2 106.4h1.1M465.4 117.3h1.1M494.0 130.1h1.1M462.2 144.7h1.1M476.9 120.6h1.1M486.5 138.3h1.1M478.3 107.5h1.1M484.0 123.4h1.1M473.7 126.3h1.1M484.6 141.2h1.1M468.4 113.4h1.1M463.7 114.2h1.1M473.6 123.1h1.1M469.8 109.9h1.1M464.9 120.1h1.1M478.4 129.8h1.1M467.3 124.8h1.1M480.3 115.7h1.1M461.5 123.6h1.1M485.6 131.1h1.1M473.4 120.4h1.1M480.2 108.9h1.1M471.6 115.4h1.1M470.5 119.3h1.1M468.6 114.7h1.1M474.3 104.4h1.1M461.1 120.1h1.1M475.1 130.7h1.1M459.5 126.1h1.1M478.2 125.2h1.1M461.6 123.1h1.1M480.3 120.6h1.1M474.1 125.9h1.1M477.4 129.4h1.1M476.0 107.5h1.1M466.6 99.7h1.1M478.7 130.8h1.1M474.0 140.5h1.1M463.1 131.4h1.1M463.1 95.3h1.1M466.7 111.3h1.1M468.1 116.9h1.1M473.8 126.9h1.1M464.7 103.7h1.1M475.8 135.0h1.1M477.9 127.6h1.1M465.0 127.1h1.1M481.4 119.8h1.1M462.3 110.6h1.1M474.1 126.2h1.1M461.8 117.8h1.1M462.8 108.6h1.1M479.2 121.9h1.1M480.4 104.8h1.1M479.6 123.7h1.1M459.2 106.8h1.1M475.2 135.7h1.1M459.9 111.4h1.1M473.4 129.5h1.1M490.6 148.1h1.1M473.8 105.8h1.1M468.0 105.8h1.1M467.9 112.4h1.1M468.7 121.9h1.1M468.1 127.9h1.1M479.7 109.9h1.1M458.1 102.9h1.1M470.4 119.8h1.1M484.7 133.2h1.1M478.6 123.1h1.1M465.1 91.8h1.1M466.9 116.3h1.1M461.4 104.8h1.1M470.9 137.5h1.1M466.4 112.1h1.1M463.4 113.3h1.1M460.2 116.4h1.1M462.3 126.8h1.1M461.3 99.9h1.1M473.3 124.3h1.1M460.2 114.5h1.1M469.7 132.1h1.1M461.9 92.2h1.1M471.1 124.6h1.1M476.2 116.4h1.1M489.5 125.6h1.1M467.9 120.2h1.1M472.4 110.2h1.1M466.8 115.6h1.1M479.2 144.3h1.1M478.8 129.9h1.1M460.8 104.4h1.1M472.5 110.9h1.1M465.3 143.4h1.1M466.7 113.3h1.1M472.0 115.7h1.1M473.6 90.8h1.1M481.6 138.1h1.1M475.9 129.8h1.1M471.0 131.4h1.1M473.6 114.5h1.1M482.1 109.9h1.1M465.7 110.2h1.1M483.2 117.9h1.1M471.7 118.1h1.1M472.4 104.0h1.1M472.5 127.9h1.1M485.5 141.6h1.1M458.5 117.6h1.1M461.0 117.6h1.1M476.0 118.5h1.1M470.6 112.0h1.1M476.3 116.6h1.1M467.6 122.5h1.1M463.6 123.3h1.1M465.9 113.6h1.1M475.0 135.1h1.1M467.6 118.7h1.1M467.3 99.0h1.1M466.3 142.4h1.1M468.0 125.6h1.1M475.0 134.4h1.1M469.9 126.2h1.1M468.3 144.0h1.1M473.3 118.4h1.1M480.9 113.9h1.1M478.6 147.2h1.1M461.7 120.1h1.1M465.4 116.7h1.1M468.5 93.9h1.1M480.2 122.8h1.1M478.1 114.8h1.1M466.9 112.3h1.1M458.1 133.0h1.1M480.7 138.9h1.1M475.7 117.2h1.1M473.9 154.5h1.1M484.0 128.7h1.1M461.0 121.8h1.1M465.3 113.6h1.1M480.2 141.1h1.1M468.4 106.8h1.1M475.9 125.3h1.1M465.4 117.3h1.1M468.5 103.0h1.1M467.4 132.1h1.1M485.3 118.9h1.1M472.0 106.2h1.1M476.0 120.2h1.1M470.3 133.0h1.1M477.4 127.5h1.1M474.8 128.3h1.1M466.4 135.1h1.1M470.5 109.5h1.1M465.3 127.5h1.1M471.0 119.7h1.1M481.3 131.2h1.1M469.3 133.1h1.1M475.9 127.2h1.1M473.8 89.4h1.1M479.3 118.2h1.1M476.6 114.7h1.1M470.8 104.1h1.1M477.6 112.8h1.1M483.6 126.8h1.1M473.6 111.2h1.1M463.3 119.3h1.1M468.0 116.6h1.1M473.2 105.1h1.1M460.7 100.9h1.1M471.6 112.8h1.1M459.3 106.3h1.1M472.5 105.4h1.1M472.4 148.2h1.1M467.4 119.4h1.1M481.8 123.2h1.1M463.6 99.3h1.1M482.7 109.2h1.1M474.8 125.4h1.1M465.7 97.6h1.1M490.2 136.8h1.1M472.9 101.1h1.1M472.1 101.4h1.1M469.6 120.6h1.1M471.0 116.1h1.1M470.8 102.7h1.1M468.0 123.6h1.1M486.0 101.5h1.1M481.1 113.7h1.1M479.2 114.1h1.1M468.3 117.3h1.1M469.3 117.7h1.1M477.5 131.5h1.1M463.2 123.9h1.1M471.6 103.0h1.1M460.2 128.3h1.1M479.4 112.0h1.1M476.6 110.6h1.1M474.3 145.3h1.1M468.9 133.4h1.1M463.2 112.7h1.1M465.5 136.5h1.1M473.5 112.4h1.1M459.4 109.3h1.1M476.2 133.2h1.1M465.0 125.7h1.1M471.0 116.0h1.1M472.6 143.3h1.1M467.5 117.2h1.1M469.3 112.9h1.1M472.0 115.9h1.1M471.0 136.5h1.1M479.0 128.9h1.1M461.0 115.7h1.1M486.7 133.5h1.1M475.2 152.6h1.1M470.3 101.5h1.1M477.4 126.4h1.1M459.4 132.1h1.1M468.8 143.3h1.1M460.3 129.5h1.1M477.0 122.9h1.1M477.4 103.4h1.1M491.3 139.7h1.1M473.4 146.6h1.1M491.2 111.0h1.1M470.3 99.1h1.1M468.2 111.1h1.1M477.5 121.1h1.1M465.3 126.3h1.1M458.7 102.1h1.1M466.1 112.0h1.1M468.6 125.3h1.1M474.2 122.6h1.1M471.9 115.2h1.1M466.2 112.4h1.1M465.8 105.6h1.1M466.6 115.6h1.1M474.8 130.9h1.1M461.0 119.8h1.1M467.9 115.7h1.1M480.1 131.9h1.1M472.6 106.8h1.1M467.6 129.2h1.1M464.0 105.4h1.1M461.4 116.1h1.1M462.1 145.6h1.1M470.1 119.6h1.1M465.7 122.0h1.1M473.9 116.7h1.1M466.2 129.2h1.1M471.2 127.3h1.1M470.3 112.5h1.1M473.9 128.6h1.1M470.1 118.4h1.1M477.5 112.6h1.1M474.1 119.0h1.1M471.5 128.3h1.1M458.1 111.3h1.1M470.0 120.5h1.1M488.2 119.6h1.1M471.5 128.8h1.1M477.0 116.2h1.1M468.4 110.6h1.1M480.7 116.0h1.1M459.4 104.8h1.1M464.3 117.0h1.1M470.6 130.1h1.1M468.1 117.9h1.1M464.8 111.2h1.1M474.7 133.6h1.1M462.8 122.5h1.1M467.4 101.7h1.1M464.3 116.3h1.1M478.3 138.3h1.1M478.9 124.9h1.1M474.2 117.3h1.1M482.0 115.0h1.1M462.1 125.5h1.1M458.7 115.9h1.1M480.2 127.1h1.1M475.5 123.4h1.1M472.7 105.5h1.1M484.3 122.4h1.1M467.0 119.4h1.1M481.2 120.9h1.1M469.6 129.9h1.1M476.1 117.3h1.1M467.9 118.2h1.1M463.8 103.2h1.1M464.4 100.7h1.1M491.5 134.6h1.1M474.7 126.7h1.1M461.3 148.5h1.1M465.4 128.0h1.1M462.4 127.1h1.1M463.3 139.4h1.1M482.2 134.9h1.1M470.2 139.2h1.1M458.7 135.5h1.1M453.5 127.9h1.1M475.3 135.6h1.1M466.9 137.2h1.1M484.8 124.2h1.1M467.8 132.4h1.1M470.7 145.4h1.1M469.2 132.8h1.1M464.9 143.7h1.1M475.5 142.3h1.1M470.2 132.7h1.1M470.8 130.4h1.1M467.0 135.4h1.1M471.1 146.5h1.1M468.8 143.3h1.1M465.2 134.5h1.1M475.4 138.3h1.1M453.0 137.1h1.1M465.8 140.8h1.1M473.0 134.1h1.1M475.9 126.2h1.1M487.6 131.9h1.1M472.9 147.4h1.1M463.1 127.7h1.1M454.4 136.1h1.1M469.8 145.9h1.1M463.1 135.6h1.1M464.8 137.6h1.1M455.4 133.8h1.1M459.3 142.7h1.1M461.3 135.4h1.1M492.1 140.9h1.1M476.4 120.8h1.1M469.8 141.5h1.1M472.5 139.2h1.1M462.5 128.0h1.1M477.8 136.2h1.1M483.9 132.0h1.1M484.2 126.1h1.1M471.5 133.4h1.1M468.3 142.5h1.1M478.4 142.6h1.1M469.2 144.1h1.1M455.9 139.5h1.1M461.8 130.4h1.1M468.7 142.1h1.1M472.9 147.6h1.1M457.9 128.5h1.1M466.1 148.1h1.1M464.8 140.5h1.1M461.8 137.8h1.1M473.5 130.1h1.1M465.8 130.9h1.1M470.3 144.7h1.1M481.8 133.8h1.1M464.6 145.4h1.1M472.0 133.7h1.1M469.9 137.7h1.1M477.9 152.1h1.1M461.9 134.7h1.1M468.7 130.7h1.1M470.9 139.2h1.1M459.5 134.0h1.1M501.1 149.6h1.1M468.2 147.0h1.1M478.2 125.9h1.1M479.6 141.2h1.1M491.2 140.3h1.1M470.7 140.5h1.1M469.5 125.1h1.1M487.7 133.4h1.1M482.1 146.8h1.1M470.1 135.4h1.1M465.7 131.8h1.1M460.7 131.8h1.1M487.0 138.5h1.1M461.3 139.2h1.1M469.4 137.4h1.1M484.0 156.0h1.1M460.8 139.7h1.1M462.3 140.5h1.1M473.8 135.9h1.1M463.5 138.4h1.1M473.2 131.6h1.1M456.3 137.7h1.1M465.7 155.1h1.1M469.0 137.8h1.1M476.4 140.9h1.1M462.7 141.3h1.1M460.7 146.3h1.1M467.6 129.7h1.1M453.5 133.8h1.1M466.4 139.6h1.1M484.2 142.1h1.1M469.7 138.2h1.1M488.4 134.0h1.1M463.8 146.0h1.1M463.4 138.3h1.1M482.5 143.0h1.1M457.9 129.5h1.1M473.3 147.7h1.1M465.6 141.4h1.1M481.4 136.0h1.1M479.2 138.7h1.1M464.6 132.2h1.1M466.5 128.3h1.1M454.0 128.1h1.1M470.5 137.1h1.1M476.0 130.8h1.1M466.1 139.7h1.1M487.1 133.6h1.1M467.0 137.7h1.1M489.8 152.2h1.1M471.6 137.4h1.1M465.0 143.8h1.1M452.8 133.2h1.1M478.1 137.3h1.1M460.5 130.0h1.1M482.8 135.7h1.1M452.6 140.4h1.1M472.1 138.3h1.1M470.0 132.9h1.1M454.9 144.3h1.1M460.0 143.7h1.1M460.4 132.3h1.1M465.9 123.2h1.1M473.3 138.1h1.1M467.1 135.4h1.1M473.3 133.0h1.1M457.0 122.6h1.1M471.2 138.6h1.1M461.9 147.4h1.1M470.6 130.6h1.1M457.0 135.5h1.1M467.0 126.3h1.1M473.8 137.0h1.1M464.8 147.7h1.1M485.3 135.8h1.1M465.0 133.9h1.1M454.0 137.9h1.1M462.2 126.2h1.1M472.0 136.5h1.1M472.6 145.1h1.1M453.0 139.2h1.1M467.2 123.1h1.1M456.5 127.4h1.1M476.6 141.2h1.1M476.8 143.0h1.1M477.8 147.9h1.1M472.0 130.0h1.1M462.3 143.1h1.1M456.0 144.0h1.1M461.5 146.3h1.1M476.2 147.3h1.1M497.6 127.0h1.1M460.7 131.8h1.1M467.5 132.7h1.1M469.4 129.3h1.1M476.1 139.2h1.1M474.0 129.2h1.1M468.8 142.8h1.1M470.9 143.3h1.1M465.3 138.6h1.1M456.8 143.5h1.1M474.1 146.2h1.1M472.6 133.1h1.1M457.5 133.2h1.1M454.5 141.0h1.1M483.9 143.2h1.1M474.5 143.6h1.1M454.5 126.9h1.1M465.7 131.6h1.1M467.6 136.8h1.1M466.2 136.8h1.1M469.7 152.3h1.1M466.3 135.8h1.1M461.2 140.7h1.1M459.3 140.5h1.1M454.9 135.7h1.1M489.6 129.4h1.1M461.7 140.2h1.1M459.2 132.2h1.1M473.1 150.1h1.1M478.4 136.0h1.1M454.2 124.3h1.1M460.1 142.9h1.1M471.8 135.3h1.1M453.3 131.9h1.1M467.2 139.6h1.1M484.6 131.2h1.1M490.8 153.8h1.1M481.2 144.0h1.1M473.9 145.3h1.1M473.4 149.0h1.1M461.6 134.2h1.1M474.3 140.5h1.1M465.4 145.0h1.1M479.4 135.1h1.1M457.5 129.4h1.1M474.4 125.9h1.1M462.9 142.2h1.1M460.5 148.6h1.1M468.1 132.5h1.1M453.0 139.1h1.1M469.1 143.1h1.1M460.2 120.4h1.1M472.5 141.5h1.1M483.0 146.9h1.1M472.8 138.2h1.1M460.0 138.5h1.1M460.8 126.0h1.1M460.4 140.6h1.1M460.4 134.5h1.1M476.0 145.8h1.1M504.1 143.1h1.1M468.6 136.9h1.1M471.2 144.1h1.1M463.5 128.1h1.1M482.2 130.4h1.1M463.5 131.1h1.1M471.9 143.4h1.1M464.4 130.6h1.1M464.8 140.1h1.1M472.2 126.9h1.1M466.1 135.9h1.1M468.7 141.3h1.1M464.4 139.2h1.1M464.6 135.7h1.1M461.6 137.1h1.1M479.5 139.3h1.1M454.2 131.3h1.1M473.0 133.3h1.1M465.7 141.9h1.1M464.7 143.3h1.1M478.2 132.8h1.1M482.4 148.6h1.1M471.4 128.7h1.1M487.7 137.6h1.1M479.2 135.7h1.1M480.5 137.3h1.1M484.5 130.9h1.1M476.9 137.0h1.1M479.8 129.5h1.1M460.3 133.5h1.1M456.6 139.8h1.1M470.0 140.7h1.1M473.1 142.3h1.1M483.1 131.7h1.1M489.1 140.3h1.1M476.0 140.2h1.1M473.1 135.0h1.1M452.6 136.7h1.1M488.9 136.7h1.1M455.7 129.8h1.1M456.0 134.5h1.1M468.9 127.9h1.1M488.8 133.3h1.1M479.2 148.4h1.1M477.9 143.0h1.1M458.3 131.9h1.1M477.4 138.8h1.1M475.2 145.4h1.1M480.2 123.0h1.1M465.2 150.6h1.1M461.3 149.1h1.1M459.2 140.7h1.1M468.0 151.0h1.1M463.3 131.0h1.1M455.9 130.9h1.1M471.9 143.3h1.1M479.0 138.5h1.1M473.0 144.3h1.1M455.6 140.9h1.1M460.0 132.8h1.1M462.5 139.8h1.1M459.8 132.5h1.1M454.8 135.8h1.1M471.4 130.6h1.1M468.2 139.9h1.1M459.6 139.6h1.1M476.4 140.3h1.1M458.7 136.2h1.1M464.7 146.6h1.1M476.3 135.6h1.1M467.1 123.0h1.1M471.8 132.0h1.1M476.7 132.1h1.1M473.8 151.4h1.1M473.7 133.3h1.1M461.7 136.7h1.1M474.5 149.9h1.1M457.7 130.9h1.1M478.3 134.9h1.1M464.4 148.0h1.1M471.1 142.7h1.1M480.2 140.4h1.1M467.3 142.8h1.1M482.0 124.2h1.1M454.7 153.1h1.1M469.5 125.5h1.1M468.7 149.9h1.1M472.9 134.0h1.1M468.3 136.0h1.1M469.6 134.3h1.1M462.9 136.5h1.1M459.9 134.1h1.1M484.5 128.5h1.1M482.3 144.2h1.1M461.5 151.7h1.1M463.6 142.0h1.1M470.4 140.9h1.1M461.0 138.5h1.1M467.4 135.2h1.1M468.2 139.6h1.1M462.7 141.0h1.1M461.2 144.7h1.1M482.0 136.3h1.1M455.9 130.4h1.1M458.3 144.6h1.1M462.5 130.7h1.1M463.7 129.4h1.1M476.7 146.3h1.1M478.9 148.8h1.1M458.2 131.5h1.1M464.0 140.1h1.1M470.0 125.4h1.1M461.0 140.2h1.1M461.3 137.5h1.1M470.0 140.5h1.1M477.0 128.5h1.1M465.3 132.7h1.1M470.2 142.6h1.1M458.1 133.3h1.1M471.1 128.3h1.1M469.0 132.0h1.1M480.5 138.1h1.1M467.1 143.2h1.1M464.7 122.2h1.1M458.4 137.9h1.1M471.2 139.4h1.1M473.6 143.1h1.1M455.3 142.0h1.1M469.5 134.2h1.1M466.5 133.1h1.1M491.4 135.6h1.1M470.0 135.7h1.1M463.6 128.5h1.1M464.8 144.7h1.1M475.0 134.8h1.1M485.5 129.0h1.1M462.2 141.6h1.1M484.2 140.3h1.1M463.0 133.1h1.1M471.9 125.6h1.1M472.0 128.5h1.1M459.7 137.9h1.1M457.4 132.6h1.1M459.1 129.6h1.1M469.4 136.2h1.1M460.7 139.5h1.1M461.0 132.7h1.1M488.5 145.9h1.1M465.9 139.6h1.1M466.0 142.1h1.1M464.8 148.4h1.1M471.4 144.0h1.1M484.0 142.7h1.1M467.3 136.3h1.1M470.9 132.5h1.1M469.0 137.6h1.1M453.1 149.0h1.1M462.0 144.4h1.1M490.6 146.5h1.1M457.5 133.4h1.1M465.8 135.9h1.1M474.6 141.6h1.1M482.6 134.3h1.1M485.3 128.7h1.1M457.0 147.8h1.1M479.1 129.9h1.1M466.2 138.7h1.1M485.5 131.0h1.1M477.7 135.8h1.1M463.7 134.4h1.1M486.0 148.6h1.1M468.7 128.4h1.1M461.7 134.1h1.1M479.0 128.4h1.1M469.9 145.1h1.1M473.3 138.0h1.1M483.0 139.0h1.1M475.1 140.2h1.1M507.0 110.3h1.1M502.0 125.1h1.1M480.9 118.4h1.1M487.6 138.3h1.1M482.8 132.2h1.1M495.1 105.1h1.1M488.4 115.3h1.1M507.1 124.0h1.1M485.6 132.4h1.1M471.0 110.4h1.1M501.4 142.7h1.1M473.7 139.8h1.1M495.3 124.4h1.1M504.2 121.1h1.1M478.7 138.1h1.1M478.6 151.4h1.1M487.2 103.2h1.1M481.5 113.9h1.1M480.0 104.5h1.1M488.1 124.1h1.1M494.8 137.8h1.1M473.6 111.5h1.1M475.0 101.7h1.1M487.3 121.0h1.1M487.1 90.1h1.1M496.2 128.3h1.1M497.7 133.4h1.1M491.2 124.4h1.1M485.9 128.3h1.1M472.7 124.2h1.1M482.9 131.7h1.1M484.4 91.2h1.1M494.8 105.5h1.1M484.2 121.9h1.1M488.6 121.6h1.1M492.2 127.6h1.1M481.9 138.7h1.1M484.4 128.1h1.1M501.2 119.4h1.1M498.0 146.3h1.1M456.3 91.6h1.1M445.6 90.4h1.1M447.8 92.1h1.1M455.2 90.9h1.1M445.6 91.9h1.1M454.8 90.7h1.1M452.1 92.9h1.1M453.5 93.5h1.1M459.8 93.1h1.1M458.0 91.4h1.1M447.8 85.6h1.1M447.9 89.7h1.1M448.7 92.4h1.1M451.4 92.5h1.1M450.8 89.6h1.1M454.1 88.8h1.1M443.6 90.6h1.1M449.1 93.9h1.1M451.5 87.5h1.1M451.6 92.9h1.1M456.2 91.7h1.1M443.6 90.7h1.1M450.4 89.6h1.1M452.5 89.6h1.1M448.8 88.8h1.1M453.7 87.8h1.1M446.5 90.7h1.1M455.9 91.4h1.1M454.2 93.4h1.1M442.9 92.2h1.1M455.4 94.0h1.1M446.3 96.6h1.1M449.9 90.8h1.1M453.8 91.0h1.1M457.9 92.4h1.1M452.4 88.3h1.1M453.3 91.5h1.1M454.1 90.6h1.1M453.9 91.6h1.1M453.6 92.1h1.1M428.3 157.0h1.1M442.9 155.1h1.1M432.8 152.4h1.1M450.6 154.0h1.1M440.9 154.9h1.1M438.8 156.4h1.1M434.9 154.4h1.1M440.8 152.8h1.1M437.3 152.0h1.1M432.3 153.8h1.1M446.8 154.5h1.1M451.8 151.4h1.1M433.3 153.0h1.1M438.5 156.1h1.1M433.2 150.8h1.1M439.2 150.1h1.1M440.5 151.9h1.1M439.0 152.1h1.1M439.6 155.9h1.1M440.2 155.7h1.1M433.0 154.1h1.1M446.9 151.2h1.1M436.0 151.2h1.1M441.8 151.9h1.1M428.5 150.0h1.1M439.0 153.1h1.1M437.3 153.4h1.1M445.2 152.1h1.1M445.5 151.6h1.1M460.2 153.3h1.1M434.2 152.1h1.1M427.0 155.0h1.1M447.1 155.4h1.1M438.5 156.1h1.1M432.5 153.0h1.1M443.0 154.2h1.1M434.2 152.2h1.1M445.4 152.9h1.1M427.4 156.5h1.1M434.9 154.4h1.1M428.6 144.7h1.1M426.1 134.6h1.1M427.6 132.7h1.1M426.2 132.1h1.1M423.5 138.3h1.1M430.6 137.0h1.1M426.6 146.8h1.1M421.7 144.0h1.1M424.3 136.7h1.1M430.6 153.8h1.1M432.2 130.8h1.1M422.9 145.7h1.1M426.8 113.1h1.1M429.9 146.2h1.1M429.2 161.5h1.1M429.8 137.7h1.1M420.5 138.0h1.1M424.1 138.2h1.1M426.8 134.1h1.1M425.6 140.3h1.1M427.7 153.5h1.1M423.5 132.1h1.1M433.8 141.0h1.1M427.4 124.7h1.1M429.7 152.4h1.1M429.1 120.8h1.1M424.5 136.5h1.1M426.8 151.0h1.1M428.8 121.0h1.1M425.8 140.6h1.1"/>
<path fill="#000" d="M448.9 91.6 L447.5 92.4 L445.9 93.2 L444.5 94.0 L444.2 94.8 L443.7 95.6 L442.4 96.4 L443.4 97.2 L443.5 98.0 L442.5 98.8 L442.9 99.6 L442.7 100.4 L442.8 101.2 L441.3 102.0 L441.8 102.8 L441.7 103.6 L441.5 104.4 L442.5 105.2 L442.3 106.0 L441.7 106.8 L442.1 107.6 L440.9 108.4 L441.7 109.2 L441.1 110.0 L441.5 110.8 L442.0 111.6 L441.7 112.4 L441.6 113.2 L441.7 114.0 L440.6 114.8 L439.4 115.6 L440.1 116.4 L438.9 117.2 L439.5 118.0 L439.4 118.8 L438.8 119.6 L438.1 120.4 L436.2 121.2 L435.8 122.0 L433.2 122.8 L433.0 123.6 L432.3 124.4 L430.9 125.2 L430.1 126.0 L430.2 126.8 L430.7 127.6 L430.4 128.4 L429.4 129.2 L428.6 130.0 L427.9 130.8 L427.8 131.6 L428.6 132.4 L427.6 133.2 L428.8 134.0 L427.7 134.8 L428.2 135.6 L427.6 136.4 L427.6 137.2 L429.2 138.0 L427.7 138.8 L428.1 139.6 L428.9 140.4 L428.4 141.2 L429.2 142.0 L429.6 142.8 L429.6 143.6 L429.9 144.4 L430.9 145.2 L431.2 146.0 L431.4 146.8 L431.7 147.6 L431.9 148.4 L433.2 149.2 L433.6 150.0 L434.7 150.8 L437.4 151.6 L438.6 152.4 L439.3 153.2 L448.4 153.2 L449.9 152.4 L450.6 151.6 L452.1 150.8 L452.6 150.0 L453.0 149.2 L452.6 148.4 L452.9 147.6 L453.7 146.8 L454.3 146.0 L455.5 145.2 L455.2 144.4 L456.5 143.6 L455.2 142.8 L456.0 142.0 L456.5 141.2 L457.1 140.4 L458.1 139.6 L457.6 138.8 L458.3 138.0 L458.1 137.2 L457.7 136.4 L459.5 135.6 L458.8 134.8 L459.0 134.0 L458.7 133.2 L459.7 132.4 L459.6 131.6 L460.7 130.8 L459.7 130.0 L460.0 129.2 L461.1 128.4 L461.7 127.6 L462.4 126.8 L461.9 126.0 L462.2 125.2 L463.9 124.4 L462.8 123.6 L463.8 122.8 L464.8 122.0 L464.3 121.2 L464.8 120.4 L464.0 119.6 L464.4 118.8 L465.6 118.0 L465.5 117.2 L466.0 116.4 L466.3 115.6 L465.6 114.8 L466.5 114.0 L465.9 113.2 L466.7 112.4 L466.9 111.6 L466.5 110.8 L466.0 110.0 L467.0 109.2 L467.6 108.4 L466.6 107.6 L467.3 106.8 L466.3 106.0 L466.9 105.2 L467.5 104.4 L466.6 103.6 L466.8 102.8 L467.0 102.0 L466.6 101.2 L466.4 100.4 L466.9 99.6 L465.9 98.8 L466.3 98.0 L464.4 97.2 L465.3 96.4 L464.2 95.6 L464.7 94.8 L462.7 94.0 L461.2 93.2 L459.6 92.4 L458.6 91.6 Z"/>
<path stroke="#fff" stroke-width="0.9" fill="none" d="M461.4 93.7h0.9M428.5 139.6h0.9M433.5 123.9h0.9M446.8 102.6h0.9M462.3 107.2h0.9M429.2 133.2h0.9M438.0 120.5h0.9M444.7 108.9h0.9M465.2 114.0h0.9M452.3 147.1h0.9M439.6 119.3h0.9M466.6 110.8h0.9M429.3 130.9h0.9M455.7 125.1h0.9M462.1 113.6h0.9M432.0 124.1h0.9M430.5 140.4h0.9M434.4 148.6h0.9M431.8 125.5h0.9M448.9 95.4h0.9M441.1 115.1h0.9M443.8 95.3h0.9M445.4 105.0h0.9M459.1 92.4h0.9M436.1 121.7h0.9M441.7 113.3h0.9M441.8 153.0h0.9M455.4 141.7h0.9M463.7 122.4h0.9M442.7 105.5h0.9M461.1 119.6h0.9M439.8 116.7h0.9M428.6 138.1h0.9M431.0 145.8h0.9M464.3 121.1h0.9M466.2 108.0h0.9M433.6 149.0h0.9M466.5 110.7h0.9M454.2 133.2h0.9M429.8 141.4h0.9M442.2 105.0h0.9M428.6 137.0h0.9M445.1 109.2h0.9M432.9 138.2h0.9M437.8 152.0h0.9M443.2 103.4h0.9M462.4 123.6h0.9M462.5 111.0h0.9M444.0 94.6h0.9M430.9 137.8h0.9M458.2 133.0h0.9M459.0 128.4h0.9M444.8 112.4h0.9M461.0 95.5h0.9M458.3 132.5h0.9M428.7 137.7h0.9M464.2 96.4h0.9M443.1 99.3h0.9M465.5 107.8h0.9M457.0 137.8h0.9M438.9 119.5h0.9M456.7 139.7h0.9M428.4 135.5h0.9M458.6 133.9h0.9M447.3 153.1h0.9M457.4 138.6h0.9M432.4 147.9h0.9M441.4 114.9h0.9M442.8 109.8h0.9M457.8 135.9h0.9"/>
<rect x="418.3" y="66.8" width="98.69999999999999" height="101.50000000000001" fill="none" stroke="#000" stroke-width="2.0"/>
<line x1="453.4" y1="66.8" x2="453.4" y2="168.3" stroke="#000" stroke-width="2.0" />
<line x1="418.3" y1="124" x2="517" y2="124" stroke="#000" stroke-width="2.0" />
<text x="421.2" y="79.8" font-size="12.5" text-anchor="start" font-weight="normal" textLength="30.3" lengthAdjust="spacingAndGlyphs">25.68</text>
<text x="515.5" y="79.8" font-size="12.5" text-anchor="end" font-weight="normal" textLength="30.2" lengthAdjust="spacingAndGlyphs">25.77</text>
<text x="420.5" y="166.70000000000002" font-size="12.5" text-anchor="start" font-weight="normal" textLength="29.8" lengthAdjust="spacingAndGlyphs">36.19</text>
<text x="515.5" y="166.70000000000002" font-size="12.5" text-anchor="end" font-weight="normal" textLength="30.5" lengthAdjust="spacingAndGlyphs">12.36</text>
<text x="468.5" y="185.1" font-size="13" text-anchor="middle" font-weight="normal" >BrdU</text>
<text transform="translate(411.5,118) rotate(-90)" font-size="13" text-anchor="middle">c-kit</text>
<text x="0.5" y="266.8" font-size="24" text-anchor="start" font-weight="bold" >C</text>
<text x="39.3" y="261.2" font-size="14.5" text-anchor="middle" font-weight="normal" >IL-3</text>
<text x="76.0" y="261.2" font-size="14.5" text-anchor="middle" font-weight="normal" >IL-7</text>
<text x="120" y="261.2" font-size="14.5" text-anchor="middle" font-weight="normal" textLength="33.6" lengthAdjust="spacingAndGlyphs">Flt3L</text>
<text x="158.6" y="261.2" font-size="14.5" text-anchor="middle" font-weight="normal" >SCF</text>
<text x="212.4" y="261.2" font-size="14.5" text-anchor="middle" font-weight="normal" >GM-CSF</text>
<line x1="25.3" y1="271.5" x2="230" y2="271.5" stroke="#000" stroke-width="1.4" />
<line x1="25.3" y1="373.4" x2="230" y2="373.4" stroke="#000" stroke-width="1.4" />
<line x1="25.3" y1="478.9" x2="230" y2="478.9" stroke="#000" stroke-width="1.4" />
<line x1="36.0" y1="283.4" x2="39.599999999999994" y2="283.4" stroke="#000" stroke-width="1.6" />
<line x1="74.10000000000001" y1="283.4" x2="77.7" y2="283.4" stroke="#000" stroke-width="1.6" />
<line x1="114.4" y1="283.4" x2="118.0" y2="283.4" stroke="#000" stroke-width="1.6" />
<line x1="152.1" y1="283.4" x2="155.70000000000002" y2="283.4" stroke="#000" stroke-width="1.6" />
<line x1="204.0" y1="283.4" x2="207.60000000000002" y2="283.4" stroke="#000" stroke-width="1.6" />
<line x1="35.0" y1="298.54999999999995" x2="40.599999999999994" y2="298.54999999999995" stroke="#000" stroke-width="1.6" />
<line x1="37.8" y1="295.74999999999994" x2="37.8" y2="301.34999999999997" stroke="#000" stroke-width="1.6" />
<line x1="74.10000000000001" y1="299.65" x2="77.7" y2="299.65" stroke="#000" stroke-width="1.6" />
<line x1="114.4" y1="299.65" x2="118.0" y2="299.65" stroke="#000" stroke-width="1.6" />
<line x1="152.1" y1="299.65" x2="155.70000000000002" y2="299.65" stroke="#000" stroke-width="1.6" />
<line x1="204.0" y1="299.65" x2="207.60000000000002" y2="299.65" stroke="#000" stroke-width="1.6" />
<line x1="36.0" y1="315.9" x2="39.599999999999994" y2="315.9" stroke="#000" stroke-width="1.6" />
<line x1="73.10000000000001" y1="314.79999999999995" x2="78.7" y2="314.79999999999995" stroke="#000" stroke-width="1.6" />
<line x1="75.9" y1="311.99999999999994" x2="75.9" y2="317.59999999999997" stroke="#000" stroke-width="1.6" />
<line x1="114.4" y1="315.9" x2="118.0" y2="315.9" stroke="#000" stroke-width="1.6" />
<line x1="152.1" y1="315.9" x2="155.70000000000002" y2="315.9" stroke="#000" stroke-width="1.6" />
<line x1="204.0" y1="315.9" x2="207.60000000000002" y2="315.9" stroke="#000" stroke-width="1.6" />
<line x1="36.0" y1="332.15" x2="39.599999999999994" y2="332.15" stroke="#000" stroke-width="1.6" />
<line x1="74.10000000000001" y1="332.15" x2="77.7" y2="332.15" stroke="#000" stroke-width="1.6" />
<line x1="113.4" y1="331.04999999999995" x2="119.0" y2="331.04999999999995" stroke="#000" stroke-width="1.6" />
<line x1="116.2" y1="328.24999999999994" x2="116.2" y2="333.84999999999997" stroke="#000" stroke-width="1.6" />
<line x1="152.1" y1="332.15" x2="155.70000000000002" y2="332.15" stroke="#000" stroke-width="1.6" />
<line x1="204.0" y1="332.15" x2="207.60000000000002" y2="332.15" stroke="#000" stroke-width="1.6" />
<line x1="36.0" y1="348.4" x2="39.599999999999994" y2="348.4" stroke="#000" stroke-width="1.6" />
<line x1="74.10000000000001" y1="348.4" x2="77.7" y2="348.4" stroke="#000" stroke-width="1.6" />
<line x1="114.4" y1="348.4" x2="118.0" y2="348.4" stroke="#000" stroke-width="1.6" />
<line x1="151.1" y1="347.29999999999995" x2="156.70000000000002" y2="347.29999999999995" stroke="#000" stroke-width="1.6" />
<line x1="153.9" y1="344.49999999999994" x2="153.9" y2="350.09999999999997" stroke="#000" stroke-width="1.6" />
<line x1="204.0" y1="348.4" x2="207.60000000000002" y2="348.4" stroke="#000" stroke-width="1.6" />
<line x1="36.0" y1="364.65" x2="39.599999999999994" y2="364.65" stroke="#000" stroke-width="1.6" />
<line x1="74.10000000000001" y1="364.65" x2="77.7" y2="364.65" stroke="#000" stroke-width="1.6" />
<line x1="114.4" y1="364.65" x2="118.0" y2="364.65" stroke="#000" stroke-width="1.6" />
<line x1="152.1" y1="364.65" x2="155.70000000000002" y2="364.65" stroke="#000" stroke-width="1.6" />
<line x1="203.0" y1="363.54999999999995" x2="208.60000000000002" y2="363.54999999999995" stroke="#000" stroke-width="1.6" />
<line x1="205.8" y1="360.74999999999994" x2="205.8" y2="366.34999999999997" stroke="#000" stroke-width="1.6" />
<line x1="35.0" y1="380.9" x2="40.599999999999994" y2="380.9" stroke="#000" stroke-width="1.6" />
<line x1="37.8" y1="378.09999999999997" x2="37.8" y2="383.7" stroke="#000" stroke-width="1.6" />
<line x1="73.10000000000001" y1="380.9" x2="78.7" y2="380.9" stroke="#000" stroke-width="1.6" />
<line x1="75.9" y1="378.09999999999997" x2="75.9" y2="383.7" stroke="#000" stroke-width="1.6" />
<line x1="113.4" y1="380.9" x2="119.0" y2="380.9" stroke="#000" stroke-width="1.6" />
<line x1="116.2" y1="378.09999999999997" x2="116.2" y2="383.7" stroke="#000" stroke-width="1.6" />
<line x1="151.1" y1="380.9" x2="156.70000000000002" y2="380.9" stroke="#000" stroke-width="1.6" />
<line x1="153.9" y1="378.09999999999997" x2="153.9" y2="383.7" stroke="#000" stroke-width="1.6" />
<line x1="203.0" y1="380.9" x2="208.60000000000002" y2="380.9" stroke="#000" stroke-width="1.6" />
<line x1="205.8" y1="378.09999999999997" x2="205.8" y2="383.7" stroke="#000" stroke-width="1.6" />
<line x1="36.0" y1="398.5" x2="39.599999999999994" y2="398.5" stroke="#000" stroke-width="1.6" />
<line x1="73.10000000000001" y1="397.4" x2="78.7" y2="397.4" stroke="#000" stroke-width="1.6" />
<line x1="75.9" y1="394.59999999999997" x2="75.9" y2="400.2" stroke="#000" stroke-width="1.6" />
<line x1="113.4" y1="397.4" x2="119.0" y2="397.4" stroke="#000" stroke-width="1.6" />
<line x1="116.2" y1="394.59999999999997" x2="116.2" y2="400.2" stroke="#000" stroke-width="1.6" />
<line x1="151.1" y1="397.4" x2="156.70000000000002" y2="397.4" stroke="#000" stroke-width="1.6" />
<line x1="153.9" y1="394.59999999999997" x2="153.9" y2="400.2" stroke="#000" stroke-width="1.6" />
<line x1="203.0" y1="397.4" x2="208.60000000000002" y2="397.4" stroke="#000" stroke-width="1.6" />
<line x1="205.8" y1="394.59999999999997" x2="205.8" y2="400.2" stroke="#000" stroke-width="1.6" />
<line x1="35.0" y1="413.9" x2="40.599999999999994" y2="413.9" stroke="#000" stroke-width="1.6" />
<line x1="37.8" y1="411.09999999999997" x2="37.8" y2="416.7" stroke="#000" stroke-width="1.6" />
<line x1="74.10000000000001" y1="415.0" x2="77.7" y2="415.0" stroke="#000" stroke-width="1.6" />
<line x1="113.4" y1="413.9" x2="119.0" y2="413.9" stroke="#000" stroke-width="1.6" />
<line x1="116.2" y1="411.09999999999997" x2="116.2" y2="416.7" stroke="#000" stroke-width="1.6" />
<line x1="151.1" y1="413.9" x2="156.70000000000002" y2="413.9" stroke="#000" stroke-width="1.6" />
<line x1="153.9" y1="411.09999999999997" x2="153.9" y2="416.7" stroke="#000" stroke-width="1.6" />
<line x1="203.0" y1="413.9" x2="208.60000000000002" y2="413.9" stroke="#000" stroke-width="1.6" />
<line x1="205.8" y1="411.09999999999997" x2="205.8" y2="416.7" stroke="#000" stroke-width="1.6" />
<line x1="35.0" y1="430.4" x2="40.599999999999994" y2="430.4" stroke="#000" stroke-width="1.6" />
<line x1="37.8" y1="427.59999999999997" x2="37.8" y2="433.2" stroke="#000" stroke-width="1.6" />
<line x1="73.10000000000001" y1="430.4" x2="78.7" y2="430.4" stroke="#000" stroke-width="1.6" />
<line x1="75.9" y1="427.59999999999997" x2="75.9" y2="433.2" stroke="#000" stroke-width="1.6" />
<line x1="114.4" y1="431.5" x2="118.0" y2="431.5" stroke="#000" stroke-width="1.6" />
<line x1="151.1" y1="430.4" x2="156.70000000000002" y2="430.4" stroke="#000" stroke-width="1.6" />
<line x1="153.9" y1="427.59999999999997" x2="153.9" y2="433.2" stroke="#000" stroke-width="1.6" />
<line x1="203.0" y1="430.4" x2="208.60000000000002" y2="430.4" stroke="#000" stroke-width="1.6" />
<line x1="205.8" y1="427.59999999999997" x2="205.8" y2="433.2" stroke="#000" stroke-width="1.6" />
<line x1="35.0" y1="446.9" x2="40.599999999999994" y2="446.9" stroke="#000" stroke-width="1.6" />
<line x1="37.8" y1="444.09999999999997" x2="37.8" y2="449.7" stroke="#000" stroke-width="1.6" />
<line x1="73.10000000000001" y1="446.9" x2="78.7" y2="446.9" stroke="#000" stroke-width="1.6" />
<line x1="75.9" y1="444.09999999999997" x2="75.9" y2="449.7" stroke="#000" stroke-width="1.6" />
<line x1="113.4" y1="446.9" x2="119.0" y2="446.9" stroke="#000" stroke-width="1.6" />
<line x1="116.2" y1="444.09999999999997" x2="116.2" y2="449.7" stroke="#000" stroke-width="1.6" />
<line x1="152.1" y1="448.0" x2="155.70000000000002" y2="448.0" stroke="#000" stroke-width="1.6" />
<line x1="203.0" y1="446.9" x2="208.60000000000002" y2="446.9" stroke="#000" stroke-width="1.6" />
<line x1="205.8" y1="444.09999999999997" x2="205.8" y2="449.7" stroke="#000" stroke-width="1.6" />
<line x1="35.0" y1="463.4" x2="40.599999999999994" y2="463.4" stroke="#000" stroke-width="1.6" />
<line x1="37.8" y1="460.59999999999997" x2="37.8" y2="466.2" stroke="#000" stroke-width="1.6" />
<line x1="73.10000000000001" y1="463.4" x2="78.7" y2="463.4" stroke="#000" stroke-width="1.6" />
<line x1="75.9" y1="460.59999999999997" x2="75.9" y2="466.2" stroke="#000" stroke-width="1.6" />
<line x1="113.4" y1="463.4" x2="119.0" y2="463.4" stroke="#000" stroke-width="1.6" />
<line x1="116.2" y1="460.59999999999997" x2="116.2" y2="466.2" stroke="#000" stroke-width="1.6" />
<line x1="151.1" y1="463.4" x2="156.70000000000002" y2="463.4" stroke="#000" stroke-width="1.6" />
<line x1="153.9" y1="460.59999999999997" x2="153.9" y2="466.2" stroke="#000" stroke-width="1.6" />
<line x1="204.0" y1="464.5" x2="207.60000000000002" y2="464.5" stroke="#000" stroke-width="1.6" />
<rect x="237.7" y="272.6" width="279.3" height="206.7" fill="none" stroke="#000" stroke-width="1.3"/>
<line x1="237.7" y1="375" x2="517" y2="375" stroke="#000" stroke-width="1.3" />
<line x1="237.7" y1="272.6" x2="237.7" y2="479.3" stroke="#000" stroke-width="1.7" />
<line x1="296.75" y1="283.2" x2="299.25" y2="283.2" stroke="#000" stroke-width="1.4" />
<line x1="299.25" y1="279.59999999999997" x2="299.25" y2="286.8" stroke="#000" stroke-width="1.4" />
<rect x="237.7" y="278.3" width="59.05000000000001" height="9.8" fill="#b7b7b7" stroke="#1a1a1a" stroke-width="1.2"/>
<line x1="294.25" y1="299.9" x2="301.25" y2="299.9" stroke="#000" stroke-width="1.4" />
<line x1="301.25" y1="296.29999999999995" x2="301.25" y2="303.5" stroke="#000" stroke-width="1.4" />
<rect x="237.7" y="295.0" width="56.55000000000001" height="9.8" fill="#b7b7b7" stroke="#1a1a1a" stroke-width="1.2"/>
<line x1="276.75" y1="316.59999999999997" x2="279.5" y2="316.59999999999997" stroke="#000" stroke-width="1.4" />
<line x1="279.5" y1="312.99999999999994" x2="279.5" y2="320.2" stroke="#000" stroke-width="1.4" />
<rect x="237.7" y="311.7" width="39.05000000000001" height="9.8" fill="#b7b7b7" stroke="#1a1a1a" stroke-width="1.2"/>
<line x1="288" y1="333.29999999999995" x2="293.75" y2="333.29999999999995" stroke="#000" stroke-width="1.4" />
<line x1="293.75" y1="329.69999999999993" x2="293.75" y2="336.9" stroke="#000" stroke-width="1.4" />
<rect x="237.7" y="328.4" width="50.30000000000001" height="9.8" fill="#b7b7b7" stroke="#1a1a1a" stroke-width="1.2"/>
<line x1="432.5" y1="350.0" x2="442.5" y2="350.0" stroke="#000" stroke-width="1.4" />
<line x1="442.5" y1="346.4" x2="442.5" y2="353.6" stroke="#000" stroke-width="1.4" />
<rect x="237.7" y="345.1" width="194.8" height="9.8" fill="#b7b7b7" stroke="#1a1a1a" stroke-width="1.2"/>
<line x1="301" y1="366.7" x2="306.25" y2="366.7" stroke="#000" stroke-width="1.4" />
<line x1="306.25" y1="363.09999999999997" x2="306.25" y2="370.3" stroke="#000" stroke-width="1.4" />
<rect x="237.7" y="361.8" width="63.30000000000001" height="9.8" fill="#b7b7b7" stroke="#1a1a1a" stroke-width="1.2"/>
<line x1="424.5" y1="383.4" x2="434" y2="383.4" stroke="#000" stroke-width="1.4" />
<line x1="434" y1="379.79999999999995" x2="434" y2="387.0" stroke="#000" stroke-width="1.4" />
<rect x="237.7" y="378.5" width="186.8" height="9.8" fill="#b7b7b7" stroke="#1a1a1a" stroke-width="1.2"/>
<line x1="451.75" y1="400.09999999999997" x2="462.5" y2="400.09999999999997" stroke="#000" stroke-width="1.4" />
<line x1="462.5" y1="396.49999999999994" x2="462.5" y2="403.7" stroke="#000" stroke-width="1.4" />
<rect x="237.7" y="395.2" width="214.05" height="9.8" fill="#b7b7b7" stroke="#1a1a1a" stroke-width="1.2"/>
<line x1="408.25" y1="416.79999999999995" x2="416.25" y2="416.79999999999995" stroke="#000" stroke-width="1.4" />
<line x1="416.25" y1="413.19999999999993" x2="416.25" y2="420.4" stroke="#000" stroke-width="1.4" />
<rect x="237.7" y="411.9" width="170.55" height="9.8" fill="#b7b7b7" stroke="#1a1a1a" stroke-width="1.2"/>
<line x1="409.5" y1="433.5" x2="427.5" y2="433.5" stroke="#000" stroke-width="1.4" />
<line x1="427.5" y1="429.9" x2="427.5" y2="437.1" stroke="#000" stroke-width="1.4" />
<rect x="237.7" y="428.6" width="171.8" height="9.8" fill="#b7b7b7" stroke="#1a1a1a" stroke-width="1.2"/>
<line x1="316.25" y1="450.2" x2="324.5" y2="450.2" stroke="#000" stroke-width="1.4" />
<line x1="324.5" y1="446.59999999999997" x2="324.5" y2="453.8" stroke="#000" stroke-width="1.4" />
<rect x="237.7" y="445.3" width="78.55000000000001" height="9.8" fill="#b7b7b7" stroke="#1a1a1a" stroke-width="1.2"/>
<line x1="421.75" y1="466.9" x2="435" y2="466.9" stroke="#000" stroke-width="1.4" />
<line x1="435" y1="463.29999999999995" x2="435" y2="470.5" stroke="#000" stroke-width="1.4" />
<rect x="237.7" y="462.0" width="184.05" height="9.8" fill="#b7b7b7" stroke="#1a1a1a" stroke-width="1.2"/>
<line x1="237.5" y1="479.3" x2="237.5" y2="483.3" stroke="#000" stroke-width="1.4" />
<text x="237.5" y="498.2" font-size="14" text-anchor="middle" font-weight="normal" >0</text>
<line x1="276.3" y1="479.3" x2="276.3" y2="483.3" stroke="#000" stroke-width="1.4" />
<text x="276.3" y="498.2" font-size="14" text-anchor="middle" font-weight="normal" >2</text>
<line x1="315.1" y1="479.3" x2="315.1" y2="483.3" stroke="#000" stroke-width="1.4" />
<text x="315.1" y="498.2" font-size="14" text-anchor="middle" font-weight="normal" >4</text>
<line x1="353.9" y1="479.3" x2="353.9" y2="483.3" stroke="#000" stroke-width="1.4" />
<text x="353.9" y="498.2" font-size="14" text-anchor="middle" font-weight="normal" >6</text>
<line x1="392.7" y1="479.3" x2="392.7" y2="483.3" stroke="#000" stroke-width="1.4" />
<text x="392.7" y="498.2" font-size="14" text-anchor="middle" font-weight="normal" >8</text>
<line x1="431.5" y1="479.3" x2="431.5" y2="483.3" stroke="#000" stroke-width="1.4" />
<text x="431.5" y="498.2" font-size="14" text-anchor="middle" font-weight="normal" >10</text>
<line x1="470.29999999999995" y1="479.3" x2="470.29999999999995" y2="483.3" stroke="#000" stroke-width="1.4" />
<text x="470.29999999999995" y="498.2" font-size="14" text-anchor="middle" font-weight="normal" >12</text>
<text x="304" y="520.6" font-size="14.5" textLength="71.5" lengthAdjust="spacingAndGlyphs">cpm (x10<tspan dy="-5.5" font-size="10.5">4</tspan><tspan dy="5.5">)</tspan></text>
<path d="M492.5 281 L499.5 281 L499.5 351.5 L492.5 351.5" fill="none" stroke="#000" stroke-width="2"/>
<path d="M492.5 383 L499.5 383 L499.5 453 L492.5 453" fill="none" stroke="#000" stroke-width="2"/>
<path d="M477.5 383 L485.5 383 L485.5 400.5 L477.5 400.5" fill="none" stroke="#000" stroke-width="2"/>
<text transform="translate(498.2,314) rotate(90)" font-size="11" font-weight="bold" text-anchor="middle">**</text>
<text transform="translate(498.2,418.2) rotate(90)" font-size="11" font-weight="bold" text-anchor="middle">**</text>
<text transform="translate(484,392) rotate(90)" font-size="11" font-weight="bold" text-anchor="middle">*</text>
</svg>
</body></html>
